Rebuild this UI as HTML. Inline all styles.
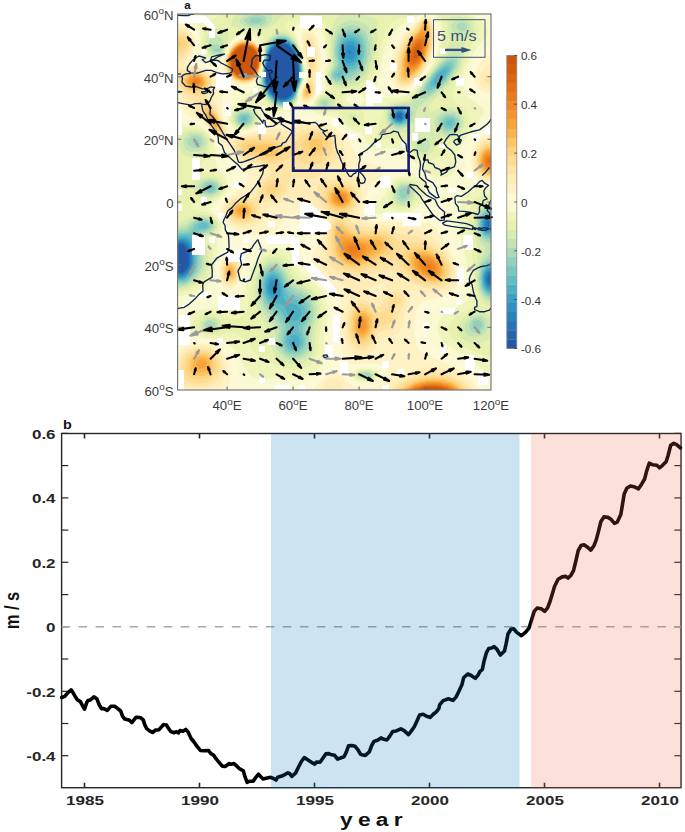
<!DOCTYPE html>
<html><head><meta charset="utf-8"><style>
html,body{margin:0;padding:0;background:#fff;}
body{width:685px;height:832px;position:relative;overflow:hidden;font-family:"Liberation Sans",sans-serif;}
svg{position:absolute;left:0;top:0;}
.ml{position:absolute;left:113px;width:60.5px;text-align:right;font-size:12px;color:#3a3a3a;line-height:14px;transform:scaleX(1.1);transform-origin:100% 0;}
.bl{position:absolute;top:399.3px;width:60px;text-align:center;font-size:12px;color:#3a3a3a;line-height:14px;transform:scaleX(1.1);}
sup{font-size:9px;vertical-align:baseline;position:relative;top:-5.5px;}
.xl{position:absolute;width:60px;text-align:center;font-weight:bold;font-size:12.8px;color:#262626;transform:scaleX(1.33);line-height:14px;}
.yl{position:absolute;left:0;width:55.6px;text-align:right;font-weight:bold;font-size:12.8px;color:#262626;line-height:14px;transform-origin:100% 50%;transform:scaleX(1.33);}
.lab{position:absolute;font-weight:bold;color:#111;}
</style></head><body>
<svg width="685" height="832" viewBox="0 0 685 832" font-family="Liberation Sans, sans-serif">
<defs><clipPath id="mclip"><rect x="177.6" y="14.0" width="313.4" height="376.0"/></clipPath></defs>
<g clip-path="url(#mclip)">
<rect x="177.6" y="14.0" width="313.4" height="376.0" fill="#fef9d6"/>
<path fill="#fff3c6" fill-rule="evenodd" d="M178.5 351.5L178.5 389.5L221.5 389.5L225.5 387.5L229.5 383.5L229.5 380.5L230.5 379.5L230.5 371.5L229.5 370.5L229.5 365.5L228.5 364.5L227.5 359.5L224.5 354.5L215.5 346.5L213.5 346.5L210.5 344.5L206.5 344.5L205.5 343.5L194.5 343.5L193.5 344.5L187.5 345.5L181.5 348.5ZM232.5 252.5L228.5 253.5L224.5 256.5L220.5 263.5L220.5 266.5L219.5 267.5L219.5 280.5L222.5 286.5L225.5 288.5L232.5 288.5L234.5 287.5L238.5 283.5L240.5 279.5L241.5 272.5L242.5 271.5L242.5 266.5L241.5 265.5L240.5 258.5L237.5 254.5ZM490.5 131.5L481.5 136.5L477.5 140.5L473.5 146.5L473.5 148.5L471.5 152.5L471.5 157.5L470.5 158.5L470.5 163.5L471.5 164.5L471.5 168.5L473.5 173.5L478.5 179.5L484.5 182.5L490.5 182.5ZM490.5 54.5L487.5 55.5L479.5 63.5L475.5 71.5L475.5 74.5L474.5 75.5L474.5 80.5L477.5 87.5L482.5 91.5L484.5 91.5L488.5 93.5L490.5 93.5ZM248.5 38.5L242.5 38.5L241.5 39.5L236.5 40.5L229.5 47.5L223.5 61.5L223.5 71.5L224.5 72.5L225.5 77.5L229.5 81.5L235.5 84.5L245.5 85.5L253.5 82.5L257.5 78.5L260.5 70.5L260.5 67.5L261.5 66.5L261.5 58.5L262.5 57.5L261.5 55.5L261.5 49.5L260.5 48.5L260.5 46.5L255.5 41.5ZM311.5 29.5L306.5 29.5L304.5 30.5L301.5 34.5L301.5 43.5L302.5 44.5L302.5 48.5L304.5 53.5L304.5 57.5L305.5 58.5L305.5 62.5L306.5 63.5L306.5 70.5L307.5 71.5L307.5 76.5L306.5 77.5L305.5 82.5L302.5 87.5L301.5 93.5L300.5 94.5L300.5 99.5L302.5 103.5L307.5 103.5L309.5 102.5L316.5 93.5L318.5 88.5L318.5 78.5L319.5 77.5L319.5 72.5L320.5 71.5L320.5 67.5L321.5 66.5L321.5 57.5L320.5 56.5L319.5 44.5L318.5 43.5L316.5 35.5ZM427.5 16.5L423.5 16.5L421.5 17.5L412.5 26.5L411.5 26.5L400.5 38.5L394.5 49.5L394.5 51.5L391.5 58.5L391.5 62.5L390.5 63.5L390.5 78.5L394.5 86.5L398.5 89.5L406.5 89.5L410.5 87.5L421.5 76.5L426.5 67.5L428.5 65.5L428.5 63.5L431.5 58.5L431.5 56.5L433.5 52.5L433.5 49.5L434.5 48.5L434.5 44.5L435.5 43.5L435.5 26.5L431.5 18.5ZM178.5 14.5L178.5 100.5L185.5 113.5L192.5 117.5L194.5 117.5L200.5 120.5L209.5 129.5L209.5 130.5L220.5 142.5L230.5 157.5L237.5 164.5L242.5 167.5L248.5 174.5L248.5 179.5L245.5 185.5L228.5 197.5L221.5 205.5L220.5 210.5L224.5 219.5L232.5 228.5L240.5 232.5L246.5 233.5L247.5 234.5L262.5 234.5L263.5 233.5L271.5 232.5L277.5 229.5L283.5 221.5L291.5 214.5L294.5 214.5L295.5 213.5L302.5 213.5L303.5 214.5L307.5 214.5L314.5 217.5L320.5 224.5L320.5 236.5L319.5 237.5L319.5 240.5L311.5 256.5L311.5 264.5L315.5 271.5L335.5 289.5L340.5 298.5L340.5 311.5L339.5 312.5L339.5 318.5L338.5 319.5L338.5 336.5L339.5 337.5L339.5 341.5L340.5 342.5L341.5 349.5L344.5 355.5L344.5 357.5L348.5 363.5L366.5 363.5L367.5 362.5L369.5 362.5L370.5 363.5L377.5 363.5L384.5 366.5L388.5 370.5L388.5 372.5L389.5 373.5L387.5 378.5L380.5 384.5L373.5 387.5L361.5 388.5L360.5 387.5L354.5 386.5L349.5 383.5L340.5 373.5L333.5 373.5L332.5 374.5L327.5 375.5L322.5 378.5L316.5 386.5L312.5 389.5L477.5 389.5L474.5 383.5L464.5 373.5L454.5 366.5L444.5 361.5L442.5 361.5L441.5 360.5L430.5 357.5L427.5 355.5L425.5 355.5L418.5 349.5L415.5 342.5L415.5 336.5L414.5 335.5L414.5 315.5L415.5 314.5L415.5 311.5L419.5 304.5L423.5 301.5L425.5 301.5L429.5 299.5L432.5 299.5L433.5 298.5L436.5 298.5L437.5 297.5L440.5 297.5L449.5 293.5L454.5 289.5L458.5 281.5L458.5 268.5L457.5 267.5L455.5 259.5L436.5 228.5L432.5 224.5L428.5 222.5L373.5 221.5L367.5 218.5L364.5 215.5L362.5 210.5L363.5 202.5L364.5 201.5L364.5 198.5L365.5 197.5L368.5 187.5L374.5 181.5L375.5 181.5L384.5 172.5L385.5 170.5L383.5 167.5L379.5 165.5L376.5 165.5L375.5 164.5L367.5 162.5L362.5 159.5L354.5 151.5L347.5 139.5L337.5 129.5L329.5 124.5L327.5 124.5L323.5 122.5L320.5 122.5L319.5 121.5L311.5 121.5L310.5 120.5L272.5 120.5L268.5 122.5L261.5 128.5L253.5 132.5L244.5 133.5L243.5 134.5L235.5 134.5L234.5 133.5L232.5 133.5L227.5 128.5L224.5 122.5L224.5 120.5L222.5 116.5L222.5 112.5L221.5 111.5L221.5 101.5L222.5 100.5L222.5 90.5L223.5 89.5L222.5 81.5L221.5 79.5L212.5 71.5L206.5 68.5L194.5 65.5L191.5 62.5L191.5 57.5L194.5 52.5L194.5 48.5L195.5 47.5L195.5 39.5L192.5 32.5L181.5 21.5L180.5 19.5L180.5 14.5Z"/>
<path fill="#ffecb6" fill-rule="evenodd" d="M323.5 385.5L323.5 389.5L342.5 389.5L342.5 384.5L341.5 382.5L336.5 378.5L331.5 378.5L330.5 379.5L328.5 379.5L325.5 381.5ZM384.5 389.5L473.5 389.5L472.5 387.5L462.5 377.5L452.5 371.5L450.5 371.5L447.5 369.5L441.5 368.5L440.5 367.5L423.5 367.5L422.5 368.5L414.5 370.5L394.5 380.5ZM221.5 355.5L213.5 348.5L208.5 346.5L203.5 346.5L202.5 345.5L193.5 346.5L184.5 350.5L180.5 354.5L178.5 358.5L178.5 385.5L180.5 387.5L182.5 387.5L183.5 388.5L192.5 388.5L193.5 389.5L196.5 389.5L197.5 388.5L208.5 388.5L209.5 387.5L213.5 387.5L219.5 384.5L222.5 381.5L225.5 373.5L225.5 366.5ZM232.5 256.5L227.5 257.5L223.5 261.5L220.5 269.5L220.5 276.5L221.5 277.5L221.5 279.5L223.5 283.5L227.5 286.5L231.5 286.5L237.5 281.5L239.5 277.5L239.5 273.5L240.5 272.5L240.5 268.5L239.5 267.5L238.5 261.5ZM490.5 136.5L483.5 139.5L477.5 145.5L473.5 155.5L473.5 166.5L474.5 167.5L474.5 169.5L478.5 176.5L482.5 179.5L484.5 179.5L485.5 180.5L490.5 180.5ZM490.5 63.5L485.5 66.5L479.5 74.5L479.5 82.5L483.5 87.5L485.5 87.5L486.5 88.5L490.5 88.5ZM241.5 39.5L236.5 41.5L232.5 44.5L228.5 50.5L224.5 61.5L224.5 67.5L227.5 75.5L229.5 78.5L237.5 83.5L249.5 83.5L253.5 81.5L258.5 75.5L258.5 73.5L260.5 69.5L260.5 66.5L261.5 65.5L261.5 51.5L259.5 46.5L254.5 41.5L249.5 39.5ZM310.5 33.5L306.5 33.5L303.5 37.5L303.5 48.5L304.5 49.5L304.5 53.5L305.5 54.5L305.5 58.5L306.5 59.5L306.5 64.5L307.5 65.5L307.5 71.5L308.5 72.5L307.5 79.5L301.5 91.5L301.5 98.5L303.5 101.5L307.5 101.5L309.5 100.5L313.5 96.5L316.5 89.5L316.5 74.5L318.5 69.5L318.5 51.5L317.5 50.5L317.5 46.5L316.5 45.5L315.5 39.5L312.5 34.5ZM178.5 25.5L178.5 92.5L184.5 100.5L188.5 108.5L200.5 117.5L200.5 118.5L207.5 125.5L213.5 133.5L229.5 147.5L232.5 153.5L238.5 159.5L247.5 164.5L249.5 164.5L256.5 168.5L259.5 172.5L258.5 177.5L252.5 189.5L249.5 192.5L236.5 195.5L232.5 197.5L226.5 202.5L223.5 208.5L223.5 211.5L226.5 218.5L232.5 224.5L237.5 226.5L240.5 226.5L241.5 227.5L248.5 227.5L249.5 226.5L252.5 226.5L257.5 224.5L262.5 220.5L265.5 214.5L265.5 212.5L268.5 207.5L272.5 205.5L275.5 205.5L281.5 202.5L283.5 202.5L290.5 198.5L297.5 198.5L298.5 199.5L300.5 199.5L305.5 202.5L309.5 203.5L318.5 209.5L326.5 218.5L326.5 222.5L325.5 223.5L325.5 233.5L324.5 234.5L324.5 241.5L323.5 242.5L323.5 246.5L320.5 254.5L320.5 264.5L322.5 268.5L328.5 274.5L346.5 286.5L350.5 290.5L350.5 292.5L351.5 293.5L350.5 294.5L350.5 297.5L349.5 298.5L348.5 303.5L346.5 306.5L346.5 309.5L344.5 314.5L344.5 318.5L343.5 319.5L343.5 332.5L344.5 333.5L344.5 337.5L345.5 338.5L346.5 343.5L351.5 351.5L356.5 355.5L358.5 355.5L359.5 356.5L365.5 356.5L369.5 354.5L373.5 350.5L377.5 343.5L383.5 337.5L393.5 335.5L397.5 333.5L400.5 330.5L403.5 323.5L403.5 316.5L404.5 315.5L404.5 312.5L409.5 303.5L409.5 300.5L410.5 299.5L410.5 291.5L411.5 290.5L418.5 290.5L419.5 291.5L423.5 291.5L424.5 292.5L438.5 292.5L448.5 288.5L452.5 284.5L455.5 276.5L455.5 271.5L454.5 270.5L453.5 263.5L450.5 257.5L446.5 251.5L430.5 235.5L424.5 231.5L422.5 231.5L418.5 229.5L415.5 229.5L414.5 228.5L403.5 228.5L402.5 227.5L395.5 227.5L394.5 226.5L389.5 226.5L388.5 225.5L371.5 224.5L361.5 220.5L358.5 217.5L357.5 212.5L358.5 211.5L358.5 208.5L360.5 203.5L360.5 199.5L361.5 198.5L360.5 188.5L356.5 180.5L347.5 169.5L347.5 166.5L346.5 165.5L346.5 158.5L345.5 157.5L345.5 152.5L344.5 151.5L343.5 144.5L337.5 134.5L331.5 129.5L322.5 125.5L308.5 124.5L307.5 125.5L302.5 125.5L301.5 126.5L297.5 126.5L296.5 127.5L292.5 127.5L291.5 128.5L286.5 128.5L285.5 129.5L267.5 129.5L266.5 130.5L263.5 130.5L256.5 133.5L248.5 134.5L247.5 135.5L231.5 136.5L227.5 132.5L225.5 128.5L225.5 126.5L223.5 123.5L223.5 121.5L221.5 118.5L221.5 116.5L219.5 113.5L219.5 111.5L214.5 100.5L215.5 80.5L213.5 76.5L205.5 70.5L203.5 70.5L199.5 68.5L195.5 68.5L194.5 67.5L188.5 67.5L184.5 64.5L184.5 61.5L192.5 50.5L193.5 40.5L191.5 35.5L186.5 30.5L180.5 27.5ZM384.5 283.5L386.5 286.5L380.5 295.5L378.5 297.5L373.5 297.5L369.5 292.5L369.5 288.5L375.5 284.5L377.5 284.5L378.5 283.5ZM426.5 17.5L424.5 17.5L420.5 19.5L406.5 34.5L398.5 47.5L398.5 49.5L396.5 52.5L395.5 58.5L394.5 59.5L394.5 63.5L393.5 64.5L393.5 76.5L394.5 77.5L395.5 82.5L397.5 85.5L400.5 87.5L406.5 87.5L416.5 80.5L425.5 68.5L430.5 57.5L432.5 47.5L433.5 46.5L433.5 41.5L434.5 40.5L434.5 29.5L433.5 28.5L432.5 22.5L430.5 19.5Z"/>
<path fill="#fee5a6" fill-rule="evenodd" d="M391.5 389.5L469.5 389.5L469.5 388.5L462.5 381.5L452.5 375.5L450.5 375.5L446.5 373.5L443.5 373.5L442.5 372.5L426.5 372.5L425.5 373.5L421.5 373.5L420.5 374.5L417.5 374.5L411.5 377.5L409.5 377.5L399.5 382.5ZM183.5 355.5L179.5 364.5L179.5 378.5L184.5 384.5L191.5 385.5L192.5 386.5L207.5 385.5L214.5 382.5L219.5 377.5L220.5 372.5L221.5 371.5L221.5 362.5L219.5 357.5L216.5 353.5L212.5 350.5L207.5 348.5L194.5 348.5L188.5 351.5ZM402.5 293.5L397.5 291.5L394.5 291.5L389.5 293.5L385.5 297.5L383.5 302.5L379.5 306.5L375.5 306.5L364.5 299.5L358.5 299.5L352.5 304.5L348.5 312.5L347.5 321.5L346.5 322.5L346.5 328.5L347.5 329.5L347.5 334.5L348.5 335.5L349.5 340.5L354.5 347.5L360.5 350.5L366.5 349.5L372.5 343.5L376.5 335.5L380.5 331.5L385.5 330.5L386.5 329.5L389.5 329.5L394.5 326.5L397.5 320.5L397.5 315.5L398.5 314.5L398.5 312.5L402.5 307.5L405.5 300.5L405.5 298.5ZM233.5 259.5L228.5 259.5L226.5 260.5L222.5 266.5L222.5 278.5L223.5 280.5L228.5 284.5L233.5 283.5L236.5 280.5L238.5 275.5L238.5 266.5L236.5 262.5ZM318.5 185.5L317.5 187.5L317.5 197.5L318.5 198.5L318.5 200.5L321.5 205.5L331.5 215.5L331.5 219.5L329.5 222.5L328.5 229.5L327.5 230.5L327.5 249.5L326.5 250.5L326.5 255.5L327.5 256.5L327.5 260.5L331.5 267.5L341.5 274.5L343.5 274.5L346.5 276.5L349.5 276.5L350.5 277.5L361.5 277.5L362.5 276.5L372.5 274.5L378.5 271.5L381.5 271.5L386.5 269.5L390.5 269.5L398.5 272.5L404.5 277.5L413.5 282.5L415.5 284.5L417.5 284.5L420.5 286.5L422.5 286.5L426.5 288.5L439.5 288.5L446.5 285.5L449.5 282.5L452.5 275.5L452.5 270.5L451.5 269.5L450.5 263.5L446.5 256.5L436.5 246.5L430.5 242.5L417.5 236.5L400.5 234.5L384.5 228.5L378.5 228.5L377.5 227.5L364.5 227.5L363.5 226.5L360.5 226.5L355.5 224.5L352.5 222.5L349.5 218.5L350.5 214.5L356.5 206.5L357.5 200.5L358.5 199.5L357.5 191.5L354.5 186.5L347.5 181.5L340.5 180.5L339.5 179.5L331.5 179.5L330.5 180.5L326.5 180.5L325.5 181.5L323.5 181.5ZM487.5 140.5L483.5 142.5L479.5 146.5L476.5 151.5L476.5 153.5L475.5 154.5L475.5 167.5L478.5 173.5L481.5 176.5L485.5 178.5L490.5 178.5L490.5 140.5ZM335.5 138.5L328.5 131.5L324.5 129.5L322.5 129.5L321.5 128.5L307.5 128.5L306.5 129.5L301.5 130.5L290.5 136.5L279.5 136.5L278.5 135.5L273.5 135.5L272.5 134.5L262.5 134.5L261.5 135.5L253.5 135.5L252.5 136.5L241.5 137.5L235.5 140.5L233.5 144.5L234.5 149.5L241.5 157.5L247.5 160.5L250.5 160.5L251.5 161.5L259.5 163.5L269.5 168.5L272.5 171.5L270.5 174.5L265.5 177.5L260.5 182.5L257.5 189.5L257.5 195.5L255.5 197.5L238.5 197.5L230.5 201.5L226.5 207.5L226.5 214.5L227.5 216.5L232.5 221.5L240.5 224.5L246.5 224.5L247.5 223.5L252.5 222.5L257.5 218.5L259.5 214.5L260.5 202.5L261.5 201.5L270.5 201.5L271.5 200.5L275.5 200.5L280.5 198.5L286.5 192.5L289.5 184.5L289.5 179.5L291.5 177.5L313.5 178.5L317.5 176.5L325.5 169.5L326.5 169.5L333.5 162.5L336.5 157.5L336.5 155.5L337.5 154.5L337.5 143.5ZM487.5 74.5L484.5 76.5L484.5 81.5L486.5 83.5L490.5 83.5L490.5 74.5ZM250.5 40.5L240.5 40.5L234.5 43.5L230.5 48.5L225.5 59.5L225.5 67.5L226.5 68.5L227.5 73.5L232.5 79.5L238.5 82.5L242.5 82.5L244.5 83.5L245.5 82.5L249.5 82.5L253.5 80.5L257.5 76.5L260.5 68.5L260.5 64.5L261.5 63.5L261.5 53.5L260.5 52.5L260.5 49.5L254.5 42.5ZM310.5 37.5L307.5 37.5L304.5 41.5L305.5 54.5L306.5 55.5L306.5 59.5L307.5 60.5L307.5 64.5L308.5 65.5L308.5 69.5L309.5 70.5L309.5 77.5L306.5 83.5L304.5 85.5L302.5 90.5L302.5 98.5L304.5 100.5L306.5 100.5L310.5 98.5L314.5 92.5L313.5 74.5L316.5 66.5L316.5 52.5L315.5 51.5L314.5 43.5ZM178.5 30.5L178.5 87.5L189.5 98.5L191.5 99.5L194.5 103.5L199.5 113.5L209.5 127.5L218.5 136.5L221.5 138.5L225.5 138.5L226.5 134.5L225.5 133.5L225.5 130.5L222.5 124.5L221.5 119.5L214.5 106.5L211.5 103.5L207.5 96.5L212.5 85.5L212.5 80.5L210.5 76.5L207.5 73.5L200.5 70.5L197.5 70.5L196.5 69.5L180.5 70.5L178.5 68.5L178.5 63.5L180.5 59.5L187.5 53.5L191.5 45.5L191.5 41.5L188.5 35.5L180.5 30.5ZM428.5 19.5L426.5 19.5L425.5 18.5L424.5 19.5L422.5 19.5L418.5 23.5L418.5 24.5L406.5 37.5L399.5 50.5L399.5 52.5L397.5 56.5L397.5 60.5L396.5 61.5L396.5 68.5L395.5 69.5L395.5 72.5L396.5 73.5L396.5 78.5L397.5 79.5L397.5 81.5L399.5 84.5L401.5 85.5L406.5 85.5L415.5 79.5L423.5 69.5L428.5 59.5L428.5 57.5L431.5 50.5L432.5 39.5L433.5 38.5L432.5 26.5L430.5 21.5Z"/>
<path fill="#fedc94" fill-rule="evenodd" d="M396.5 389.5L466.5 389.5L466.5 388.5L458.5 381.5L447.5 376.5L444.5 376.5L443.5 375.5L425.5 375.5L424.5 376.5L420.5 376.5L419.5 377.5L411.5 379.5L403.5 383.5ZM189.5 353.5L185.5 357.5L182.5 365.5L182.5 373.5L185.5 379.5L191.5 382.5L196.5 382.5L198.5 383.5L199.5 382.5L205.5 382.5L213.5 378.5L216.5 374.5L218.5 369.5L218.5 362.5L216.5 357.5L211.5 352.5L206.5 350.5L195.5 350.5ZM396.5 295.5L392.5 296.5L388.5 301.5L388.5 305.5L387.5 307.5L383.5 311.5L381.5 311.5L380.5 312.5L377.5 312.5L373.5 310.5L367.5 305.5L362.5 303.5L360.5 303.5L356.5 305.5L353.5 308.5L349.5 318.5L349.5 331.5L353.5 341.5L356.5 344.5L360.5 346.5L363.5 346.5L367.5 344.5L371.5 339.5L375.5 330.5L380.5 325.5L387.5 324.5L390.5 322.5L392.5 318.5L392.5 311.5L393.5 309.5L400.5 303.5L400.5 298.5ZM228.5 261.5L225.5 263.5L223.5 267.5L223.5 276.5L226.5 281.5L231.5 282.5L233.5 281.5L236.5 277.5L237.5 268.5L234.5 262.5L232.5 261.5ZM330.5 227.5L330.5 253.5L331.5 254.5L331.5 257.5L333.5 261.5L339.5 267.5L345.5 270.5L352.5 271.5L353.5 272.5L363.5 271.5L369.5 268.5L371.5 268.5L380.5 263.5L385.5 262.5L388.5 260.5L395.5 260.5L412.5 278.5L423.5 284.5L426.5 284.5L427.5 285.5L439.5 285.5L446.5 281.5L448.5 278.5L448.5 276.5L449.5 275.5L449.5 267.5L446.5 260.5L439.5 252.5L428.5 245.5L426.5 245.5L422.5 243.5L419.5 243.5L418.5 242.5L400.5 242.5L388.5 233.5L383.5 231.5L379.5 231.5L378.5 230.5L370.5 230.5L369.5 231.5L359.5 230.5L358.5 229.5L353.5 228.5L341.5 218.5L336.5 219.5L332.5 223.5ZM232.5 202.5L228.5 207.5L228.5 213.5L234.5 220.5L236.5 221.5L240.5 221.5L241.5 222.5L248.5 221.5L255.5 215.5L256.5 213.5L256.5 207.5L253.5 202.5L246.5 199.5L239.5 199.5ZM334.5 183.5L329.5 185.5L325.5 188.5L322.5 194.5L322.5 198.5L324.5 203.5L328.5 208.5L337.5 214.5L342.5 214.5L348.5 211.5L353.5 206.5L355.5 202.5L355.5 193.5L353.5 189.5L350.5 186.5L346.5 184.5L344.5 184.5L343.5 183.5ZM269.5 180.5L265.5 182.5L262.5 186.5L262.5 193.5L267.5 197.5L273.5 197.5L279.5 194.5L281.5 191.5L281.5 184.5L276.5 180.5ZM490.5 142.5L489.5 143.5L484.5 144.5L479.5 149.5L476.5 157.5L476.5 164.5L477.5 165.5L478.5 170.5L482.5 175.5L487.5 177.5L490.5 177.5ZM332.5 141.5L331.5 139.5L323.5 132.5L321.5 132.5L320.5 131.5L310.5 131.5L300.5 136.5L292.5 145.5L288.5 145.5L282.5 141.5L280.5 141.5L277.5 139.5L274.5 139.5L273.5 138.5L247.5 138.5L246.5 139.5L241.5 140.5L238.5 143.5L238.5 149.5L239.5 151.5L245.5 156.5L255.5 158.5L268.5 163.5L278.5 163.5L287.5 159.5L291.5 156.5L294.5 156.5L301.5 161.5L306.5 163.5L318.5 163.5L323.5 161.5L330.5 155.5L332.5 151.5ZM201.5 100.5L200.5 101.5L200.5 109.5L205.5 120.5L210.5 127.5L216.5 133.5L219.5 135.5L222.5 135.5L223.5 134.5L223.5 128.5L216.5 112.5L207.5 102.5L203.5 100.5ZM310.5 81.5L309.5 81.5L305.5 85.5L303.5 89.5L302.5 95.5L304.5 98.5L308.5 98.5L312.5 94.5L312.5 92.5L313.5 91.5L313.5 86.5L312.5 85.5L312.5 83.5ZM181.5 74.5L179.5 76.5L179.5 78.5L178.5 79.5L179.5 80.5L180.5 85.5L184.5 90.5L193.5 95.5L200.5 96.5L209.5 86.5L209.5 84.5L210.5 83.5L209.5 78.5L202.5 72.5L200.5 72.5L199.5 71.5L188.5 71.5ZM307.5 42.5L306.5 44.5L306.5 53.5L307.5 54.5L307.5 58.5L308.5 59.5L309.5 66.5L310.5 68.5L312.5 68.5L313.5 66.5L313.5 62.5L314.5 61.5L314.5 53.5L313.5 52.5L313.5 48.5L311.5 43.5L310.5 42.5ZM242.5 40.5L235.5 43.5L231.5 47.5L226.5 58.5L226.5 68.5L228.5 73.5L231.5 77.5L235.5 80.5L237.5 80.5L241.5 82.5L246.5 82.5L247.5 81.5L252.5 80.5L257.5 75.5L260.5 67.5L261.5 55.5L260.5 54.5L260.5 50.5L259.5 48.5L253.5 42.5L248.5 41.5L247.5 40.5ZM178.5 33.5L178.5 56.5L185.5 51.5L188.5 47.5L188.5 40.5L187.5 38.5L184.5 35.5ZM427.5 20.5L422.5 20.5L420.5 22.5L418.5 26.5L411.5 33.5L403.5 45.5L403.5 47.5L401.5 50.5L401.5 52.5L399.5 56.5L399.5 59.5L398.5 60.5L398.5 70.5L397.5 71.5L398.5 72.5L398.5 79.5L401.5 83.5L406.5 83.5L414.5 78.5L421.5 70.5L427.5 59.5L427.5 57.5L430.5 50.5L430.5 46.5L431.5 45.5L431.5 27.5L429.5 22.5Z"/>
<path fill="#fdd47f" fill-rule="evenodd" d="M399.5 389.5L464.5 389.5L456.5 382.5L446.5 378.5L443.5 378.5L442.5 377.5L425.5 377.5L424.5 378.5L420.5 378.5L405.5 384.5ZM196.5 352.5L192.5 354.5L187.5 359.5L186.5 364.5L185.5 365.5L185.5 369.5L187.5 374.5L190.5 377.5L194.5 379.5L203.5 379.5L210.5 376.5L212.5 374.5L215.5 369.5L215.5 361.5L214.5 360.5L214.5 358.5L210.5 354.5L206.5 352.5ZM359.5 307.5L354.5 311.5L352.5 315.5L352.5 318.5L351.5 319.5L351.5 331.5L354.5 338.5L358.5 342.5L364.5 342.5L368.5 339.5L372.5 332.5L372.5 330.5L375.5 324.5L375.5 318.5L372.5 313.5L368.5 309.5L365.5 307.5ZM230.5 262.5L229.5 263.5L227.5 263.5L224.5 268.5L224.5 275.5L226.5 279.5L228.5 280.5L233.5 279.5L235.5 276.5L235.5 273.5L236.5 272.5L235.5 266.5ZM404.5 252.5L403.5 254.5L403.5 260.5L406.5 267.5L408.5 270.5L418.5 279.5L429.5 283.5L437.5 283.5L438.5 282.5L440.5 282.5L445.5 278.5L447.5 273.5L446.5 265.5L442.5 258.5L438.5 254.5L432.5 250.5L424.5 247.5L415.5 246.5L414.5 247.5L408.5 248.5ZM332.5 228.5L332.5 243.5L333.5 244.5L333.5 253.5L334.5 254.5L334.5 256.5L342.5 265.5L346.5 267.5L349.5 267.5L350.5 268.5L360.5 268.5L361.5 267.5L366.5 266.5L372.5 263.5L374.5 261.5L382.5 258.5L384.5 256.5L387.5 255.5L391.5 251.5L392.5 244.5L390.5 240.5L386.5 236.5L382.5 234.5L380.5 234.5L379.5 233.5L370.5 233.5L369.5 234.5L358.5 233.5L357.5 232.5L352.5 231.5L344.5 224.5L339.5 222.5L336.5 223.5ZM231.5 206.5L230.5 208.5L230.5 213.5L231.5 215.5L236.5 219.5L239.5 219.5L240.5 220.5L247.5 219.5L249.5 218.5L253.5 213.5L253.5 207.5L251.5 204.5L245.5 201.5L238.5 201.5L234.5 203.5ZM331.5 187.5L326.5 192.5L326.5 194.5L325.5 195.5L325.5 199.5L327.5 203.5L332.5 208.5L336.5 210.5L344.5 210.5L348.5 208.5L353.5 202.5L353.5 193.5L352.5 191.5L349.5 188.5L342.5 185.5L337.5 185.5L336.5 186.5ZM270.5 184.5L266.5 187.5L266.5 191.5L268.5 193.5L273.5 193.5L276.5 191.5L276.5 186.5L273.5 184.5ZM486.5 145.5L483.5 147.5L479.5 152.5L477.5 161.5L478.5 162.5L478.5 167.5L481.5 172.5L485.5 175.5L490.5 175.5L490.5 145.5ZM241.5 146.5L242.5 150.5L248.5 154.5L259.5 156.5L262.5 158.5L269.5 159.5L270.5 160.5L277.5 159.5L280.5 157.5L283.5 153.5L283.5 149.5L282.5 147.5L279.5 144.5L272.5 141.5L255.5 141.5L254.5 140.5L250.5 140.5L249.5 141.5L245.5 141.5ZM309.5 135.5L304.5 139.5L302.5 143.5L302.5 149.5L303.5 151.5L307.5 155.5L312.5 157.5L316.5 157.5L317.5 156.5L322.5 155.5L327.5 150.5L327.5 148.5L328.5 147.5L327.5 140.5L323.5 136.5L319.5 134.5L312.5 134.5L311.5 135.5ZM204.5 105.5L203.5 106.5L203.5 113.5L205.5 116.5L205.5 118.5L212.5 128.5L217.5 132.5L220.5 133.5L221.5 132.5L221.5 125.5L216.5 114.5L210.5 107.5L207.5 105.5ZM310.5 84.5L307.5 84.5L303.5 90.5L303.5 95.5L305.5 97.5L309.5 96.5L311.5 93.5L312.5 88.5ZM182.5 77.5L182.5 79.5L181.5 80.5L182.5 81.5L183.5 86.5L186.5 89.5L192.5 92.5L200.5 92.5L202.5 91.5L207.5 86.5L207.5 84.5L208.5 83.5L207.5 78.5L203.5 74.5L198.5 72.5L190.5 72.5L185.5 74.5ZM309.5 49.5L308.5 50.5L308.5 54.5L310.5 59.5L311.5 58.5L311.5 53.5ZM241.5 41.5L236.5 43.5L231.5 48.5L227.5 56.5L226.5 65.5L229.5 73.5L235.5 79.5L240.5 81.5L248.5 81.5L254.5 78.5L258.5 72.5L259.5 66.5L260.5 65.5L260.5 52.5L259.5 51.5L259.5 49.5L255.5 44.5L249.5 41.5ZM178.5 36.5L178.5 51.5L179.5 51.5L185.5 46.5L186.5 43.5L185.5 42.5L185.5 40.5L183.5 38.5ZM426.5 21.5L423.5 21.5L420.5 24.5L418.5 28.5L408.5 39.5L407.5 42.5L404.5 46.5L404.5 48.5L401.5 54.5L400.5 64.5L399.5 65.5L399.5 75.5L400.5 76.5L400.5 79.5L402.5 81.5L406.5 81.5L414.5 76.5L419.5 71.5L425.5 61.5L425.5 59.5L427.5 56.5L427.5 54.5L429.5 50.5L429.5 46.5L430.5 45.5L430.5 27.5L428.5 22.5Z"/>
<path fill="#fcc667" fill-rule="evenodd" d="M402.5 389.5L461.5 389.5L456.5 384.5L450.5 381.5L448.5 381.5L444.5 379.5L438.5 379.5L437.5 378.5L430.5 378.5L429.5 379.5L419.5 380.5L405.5 386.5ZM197.5 354.5L193.5 356.5L189.5 361.5L189.5 370.5L194.5 375.5L197.5 375.5L198.5 376.5L205.5 375.5L207.5 374.5L212.5 368.5L212.5 366.5L213.5 365.5L212.5 360.5L209.5 356.5L205.5 354.5ZM359.5 310.5L355.5 314.5L353.5 318.5L353.5 331.5L354.5 332.5L354.5 334.5L357.5 338.5L359.5 339.5L364.5 339.5L368.5 335.5L371.5 329.5L372.5 320.5L370.5 315.5L366.5 311.5L364.5 310.5ZM229.5 264.5L227.5 265.5L225.5 269.5L225.5 274.5L228.5 278.5L232.5 278.5L234.5 275.5L234.5 268.5L231.5 264.5ZM409.5 254.5L408.5 256.5L408.5 264.5L412.5 271.5L419.5 277.5L426.5 280.5L435.5 281.5L440.5 279.5L444.5 275.5L444.5 271.5L445.5 270.5L444.5 269.5L443.5 263.5L441.5 260.5L433.5 253.5L426.5 250.5L414.5 250.5ZM334.5 229.5L334.5 240.5L335.5 241.5L335.5 250.5L336.5 251.5L336.5 254.5L339.5 259.5L346.5 264.5L348.5 264.5L349.5 265.5L360.5 265.5L361.5 264.5L363.5 264.5L384.5 252.5L387.5 247.5L387.5 243.5L382.5 237.5L380.5 237.5L379.5 236.5L359.5 236.5L349.5 232.5L342.5 226.5L340.5 226.5L339.5 225.5L338.5 226.5L336.5 226.5ZM232.5 208.5L232.5 212.5L233.5 214.5L236.5 217.5L238.5 217.5L239.5 218.5L244.5 218.5L248.5 216.5L251.5 212.5L250.5 207.5L245.5 203.5L238.5 203.5ZM336.5 187.5L332.5 189.5L329.5 192.5L328.5 194.5L328.5 201.5L331.5 205.5L336.5 208.5L344.5 208.5L349.5 205.5L351.5 202.5L351.5 200.5L352.5 199.5L351.5 193.5L347.5 189.5L343.5 187.5ZM486.5 147.5L483.5 149.5L480.5 153.5L480.5 155.5L479.5 156.5L479.5 166.5L483.5 172.5L487.5 174.5L490.5 174.5L490.5 147.5ZM246.5 146.5L246.5 148.5L248.5 150.5L258.5 152.5L266.5 156.5L274.5 156.5L278.5 153.5L278.5 149.5L277.5 147.5L271.5 144.5L248.5 144.5ZM317.5 138.5L312.5 139.5L309.5 142.5L309.5 147.5L312.5 150.5L314.5 150.5L315.5 151.5L319.5 150.5L322.5 147.5L322.5 142.5L321.5 140.5ZM206.5 108.5L205.5 109.5L205.5 115.5L208.5 121.5L216.5 130.5L218.5 131.5L220.5 130.5L220.5 125.5L216.5 116.5L210.5 109.5ZM309.5 86.5L307.5 86.5L304.5 90.5L304.5 95.5L306.5 96.5L310.5 93.5L310.5 87.5ZM184.5 78.5L184.5 84.5L189.5 89.5L191.5 89.5L192.5 90.5L199.5 90.5L203.5 88.5L206.5 84.5L206.5 79.5L204.5 76.5L198.5 73.5L191.5 73.5L187.5 75.5ZM243.5 41.5L242.5 42.5L237.5 43.5L231.5 49.5L227.5 58.5L227.5 67.5L231.5 75.5L236.5 79.5L238.5 79.5L239.5 80.5L249.5 80.5L253.5 78.5L256.5 75.5L258.5 71.5L259.5 65.5L260.5 64.5L260.5 53.5L258.5 48.5L254.5 44.5L250.5 42.5ZM179.5 41.5L178.5 41.5L178.5 46.5L180.5 45.5L180.5 42.5ZM426.5 22.5L423.5 22.5L418.5 30.5L411.5 37.5L405.5 47.5L405.5 49.5L403.5 52.5L402.5 59.5L401.5 60.5L401.5 76.5L403.5 79.5L406.5 79.5L413.5 75.5L419.5 69.5L422.5 63.5L424.5 61.5L424.5 59.5L426.5 56.5L426.5 54.5L428.5 50.5L428.5 46.5L429.5 45.5L429.5 28.5Z"/>
<path fill="#fab54d" fill-rule="evenodd" d="M404.5 389.5L459.5 389.5L453.5 384.5L442.5 380.5L425.5 380.5L424.5 381.5L420.5 381.5L419.5 382.5L414.5 383.5ZM196.5 357.5L192.5 362.5L192.5 367.5L193.5 369.5L197.5 372.5L203.5 372.5L204.5 371.5L206.5 371.5L209.5 368.5L209.5 366.5L210.5 365.5L209.5 360.5L204.5 356.5L198.5 356.5ZM361.5 312.5L359.5 313.5L355.5 318.5L354.5 327.5L355.5 328.5L356.5 333.5L359.5 336.5L362.5 337.5L367.5 333.5L369.5 329.5L369.5 318.5L365.5 313.5ZM229.5 266.5L226.5 270.5L226.5 273.5L228.5 276.5L231.5 276.5L233.5 274.5L233.5 269.5L232.5 267.5ZM412.5 256.5L411.5 258.5L411.5 264.5L415.5 271.5L421.5 276.5L429.5 279.5L434.5 279.5L439.5 277.5L442.5 273.5L442.5 266.5L440.5 262.5L434.5 256.5L425.5 252.5L418.5 252.5ZM336.5 232.5L336.5 236.5L337.5 237.5L337.5 248.5L338.5 249.5L339.5 255.5L345.5 261.5L350.5 263.5L358.5 263.5L365.5 260.5L373.5 254.5L378.5 252.5L383.5 246.5L382.5 242.5L378.5 239.5L362.5 239.5L361.5 238.5L358.5 238.5L347.5 234.5L341.5 229.5L338.5 229.5ZM235.5 207.5L234.5 212.5L239.5 216.5L244.5 216.5L248.5 213.5L248.5 208.5L244.5 205.5L238.5 205.5ZM330.5 194.5L330.5 201.5L336.5 206.5L344.5 206.5L346.5 205.5L350.5 200.5L350.5 195.5L349.5 193.5L344.5 189.5L336.5 189.5ZM490.5 148.5L488.5 148.5L484.5 150.5L481.5 154.5L481.5 156.5L480.5 157.5L480.5 165.5L482.5 169.5L486.5 172.5L490.5 172.5ZM265.5 150.5L267.5 152.5L272.5 152.5L272.5 149.5L270.5 148.5L267.5 148.5ZM207.5 111.5L207.5 117.5L209.5 121.5L215.5 128.5L218.5 128.5L218.5 122.5L215.5 116.5L210.5 111.5ZM308.5 88.5L305.5 90.5L305.5 93.5L306.5 94.5L309.5 92.5L309.5 89.5ZM185.5 80.5L186.5 84.5L189.5 87.5L194.5 89.5L197.5 89.5L202.5 87.5L205.5 82.5L203.5 77.5L197.5 74.5L192.5 74.5L188.5 76.5ZM241.5 42.5L240.5 43.5L238.5 43.5L232.5 48.5L228.5 56.5L227.5 64.5L231.5 74.5L234.5 77.5L241.5 80.5L247.5 80.5L252.5 78.5L256.5 74.5L259.5 67.5L260.5 56.5L259.5 55.5L259.5 51.5L258.5 49.5L253.5 44.5L248.5 42.5ZM426.5 24.5L423.5 24.5L422.5 25.5L421.5 28.5L418.5 32.5L410.5 40.5L405.5 50.5L404.5 56.5L403.5 57.5L403.5 63.5L402.5 64.5L402.5 66.5L403.5 67.5L403.5 74.5L404.5 76.5L407.5 76.5L413.5 73.5L420.5 66.5L425.5 56.5L425.5 54.5L427.5 50.5L427.5 47.5L428.5 46.5L428.5 31.5L427.5 30.5L427.5 25.5Z"/>
<path fill="#f7a43a" fill-rule="evenodd" d="M406.5 389.5L457.5 389.5L454.5 386.5L448.5 383.5L441.5 382.5L440.5 381.5L425.5 381.5L424.5 382.5L421.5 382.5L420.5 383.5L417.5 383.5L414.5 385.5L412.5 385.5ZM196.5 362.5L196.5 366.5L198.5 368.5L203.5 368.5L205.5 367.5L206.5 365.5L206.5 361.5L203.5 359.5L199.5 359.5ZM361.5 315.5L359.5 316.5L357.5 319.5L357.5 321.5L356.5 322.5L356.5 328.5L358.5 332.5L362.5 334.5L365.5 332.5L367.5 328.5L367.5 320.5L364.5 316.5ZM231.5 269.5L229.5 269.5L228.5 270.5L228.5 273.5L229.5 274.5L231.5 273.5ZM414.5 259.5L414.5 265.5L416.5 269.5L423.5 275.5L425.5 275.5L429.5 277.5L433.5 277.5L439.5 274.5L440.5 272.5L440.5 266.5L438.5 262.5L434.5 258.5L428.5 255.5L418.5 255.5ZM340.5 236.5L340.5 244.5L339.5 245.5L340.5 247.5L340.5 252.5L346.5 259.5L351.5 261.5L357.5 261.5L362.5 259.5L377.5 246.5L375.5 243.5L367.5 243.5L366.5 242.5L363.5 242.5L353.5 238.5L346.5 237.5L342.5 235.5ZM237.5 209.5L237.5 212.5L240.5 214.5L242.5 214.5L245.5 212.5L245.5 209.5L243.5 207.5L239.5 207.5ZM338.5 190.5L332.5 194.5L332.5 200.5L334.5 203.5L338.5 205.5L342.5 205.5L347.5 202.5L348.5 200.5L348.5 195.5L346.5 192.5L341.5 190.5ZM487.5 150.5L485.5 151.5L482.5 155.5L482.5 157.5L481.5 158.5L481.5 164.5L485.5 170.5L490.5 171.5L490.5 150.5ZM209.5 113.5L208.5 116.5L210.5 121.5L215.5 126.5L217.5 126.5L217.5 123.5L215.5 118.5ZM187.5 80.5L188.5 84.5L192.5 87.5L199.5 87.5L202.5 85.5L203.5 83.5L202.5 78.5L196.5 75.5L190.5 76.5ZM246.5 42.5L240.5 43.5L236.5 45.5L232.5 49.5L228.5 57.5L228.5 66.5L229.5 67.5L229.5 69.5L231.5 73.5L235.5 77.5L239.5 79.5L249.5 79.5L255.5 75.5L257.5 72.5L257.5 70.5L259.5 66.5L259.5 53.5L258.5 52.5L258.5 50.5L255.5 46.5L250.5 43.5L247.5 43.5ZM425.5 26.5L424.5 26.5L413.5 38.5L406.5 50.5L405.5 56.5L404.5 57.5L404.5 69.5L407.5 73.5L412.5 72.5L417.5 68.5L420.5 64.5L425.5 54.5L425.5 51.5L427.5 46.5L427.5 35.5L426.5 34.5L426.5 27.5Z"/>
<path fill="#f4962e" fill-rule="evenodd" d="M408.5 389.5L455.5 389.5L453.5 387.5L447.5 384.5L441.5 383.5L440.5 382.5L426.5 382.5L425.5 383.5L421.5 383.5L420.5 384.5L415.5 385.5ZM361.5 319.5L358.5 323.5L358.5 326.5L360.5 330.5L363.5 330.5L365.5 327.5L365.5 322.5L363.5 319.5ZM417.5 260.5L417.5 266.5L422.5 272.5L429.5 275.5L435.5 274.5L437.5 272.5L438.5 267.5L436.5 263.5L432.5 259.5L427.5 257.5L421.5 257.5ZM342.5 243.5L342.5 251.5L343.5 253.5L347.5 257.5L352.5 259.5L359.5 258.5L364.5 254.5L366.5 250.5L366.5 248.5L364.5 245.5L356.5 241.5L353.5 241.5L352.5 240.5L345.5 240.5ZM334.5 195.5L334.5 200.5L338.5 203.5L343.5 203.5L346.5 200.5L346.5 195.5L342.5 192.5L338.5 192.5ZM487.5 152.5L485.5 153.5L483.5 156.5L482.5 163.5L483.5 164.5L483.5 166.5L486.5 169.5L490.5 169.5L490.5 152.5ZM211.5 117.5L211.5 120.5L215.5 123.5L214.5 119.5ZM199.5 77.5L196.5 77.5L195.5 76.5L194.5 77.5L191.5 77.5L189.5 79.5L189.5 83.5L193.5 86.5L197.5 86.5L201.5 83.5L201.5 79.5ZM241.5 43.5L237.5 45.5L231.5 51.5L229.5 56.5L229.5 59.5L228.5 60.5L228.5 64.5L231.5 72.5L236.5 77.5L241.5 79.5L247.5 79.5L252.5 77.5L257.5 71.5L258.5 65.5L259.5 64.5L259.5 54.5L256.5 48.5L251.5 44.5L249.5 44.5L248.5 43.5ZM424.5 32.5L422.5 32.5L419.5 34.5L412.5 41.5L408.5 48.5L408.5 50.5L406.5 54.5L406.5 57.5L405.5 58.5L405.5 65.5L406.5 66.5L406.5 68.5L408.5 70.5L412.5 70.5L414.5 69.5L418.5 65.5L424.5 54.5L425.5 48.5L426.5 47.5L426.5 37.5Z"/>
<path fill="#f08824" fill-rule="evenodd" d="M410.5 389.5L454.5 389.5L447.5 385.5L441.5 384.5L440.5 383.5L425.5 383.5L424.5 384.5L421.5 384.5L420.5 385.5L415.5 386.5ZM420.5 262.5L420.5 266.5L423.5 270.5L427.5 272.5L433.5 272.5L435.5 270.5L435.5 266.5L431.5 261.5L424.5 259.5ZM345.5 245.5L344.5 249.5L345.5 250.5L345.5 252.5L348.5 255.5L350.5 256.5L357.5 256.5L360.5 254.5L361.5 252.5L361.5 248.5L357.5 244.5L355.5 244.5L354.5 243.5L347.5 243.5ZM338.5 194.5L336.5 196.5L336.5 199.5L338.5 201.5L342.5 201.5L344.5 199.5L344.5 196.5L342.5 194.5ZM487.5 154.5L484.5 157.5L484.5 160.5L483.5 161.5L484.5 162.5L484.5 165.5L487.5 168.5L490.5 168.5L490.5 154.5ZM191.5 80.5L191.5 83.5L193.5 84.5L198.5 84.5L200.5 81.5L199.5 79.5L197.5 78.5L193.5 78.5ZM246.5 43.5L240.5 44.5L236.5 46.5L231.5 52.5L229.5 57.5L229.5 66.5L231.5 71.5L237.5 77.5L239.5 77.5L240.5 78.5L248.5 78.5L249.5 77.5L251.5 77.5L256.5 72.5L258.5 67.5L258.5 63.5L259.5 62.5L259.5 56.5L258.5 55.5L257.5 50.5L252.5 45.5L247.5 44.5ZM422.5 35.5L419.5 36.5L414.5 40.5L410.5 46.5L410.5 48.5L408.5 51.5L408.5 53.5L407.5 54.5L407.5 66.5L409.5 68.5L414.5 67.5L419.5 62.5L423.5 54.5L424.5 48.5L425.5 47.5L425.5 39.5Z"/>
<path fill="#ea7c1e" fill-rule="evenodd" d="M412.5 389.5L452.5 389.5L447.5 386.5L441.5 385.5L440.5 384.5L425.5 384.5L424.5 385.5L421.5 385.5L420.5 386.5L415.5 387.5ZM425.5 263.5L424.5 264.5L424.5 266.5L427.5 269.5L430.5 269.5L431.5 268.5L431.5 265.5L428.5 263.5ZM348.5 247.5L348.5 251.5L350.5 253.5L355.5 253.5L357.5 251.5L356.5 247.5L354.5 246.5L349.5 246.5ZM487.5 156.5L485.5 159.5L485.5 163.5L487.5 166.5L490.5 166.5L490.5 156.5ZM193.5 81.5L194.5 82.5L197.5 82.5L196.5 80.5L194.5 80.5ZM241.5 44.5L237.5 46.5L232.5 51.5L229.5 59.5L229.5 64.5L230.5 65.5L231.5 70.5L235.5 75.5L242.5 78.5L246.5 78.5L253.5 75.5L255.5 73.5L258.5 66.5L258.5 54.5L257.5 53.5L257.5 51.5L251.5 45.5L249.5 45.5L248.5 44.5ZM422.5 38.5L417.5 39.5L414.5 42.5L409.5 51.5L409.5 54.5L408.5 55.5L408.5 63.5L410.5 66.5L414.5 65.5L419.5 60.5L422.5 54.5L423.5 48.5L424.5 47.5L424.5 41.5Z"/>
<path fill="#e47117" fill-rule="evenodd" d="M414.5 389.5L450.5 389.5L447.5 387.5L445.5 387.5L441.5 385.5L424.5 385.5ZM488.5 158.5L487.5 159.5L487.5 162.5L488.5 163.5L490.5 163.5L490.5 159.5ZM245.5 44.5L240.5 45.5L235.5 48.5L232.5 52.5L230.5 57.5L230.5 66.5L231.5 67.5L231.5 69.5L236.5 75.5L240.5 77.5L248.5 77.5L252.5 75.5L255.5 72.5L258.5 64.5L258.5 55.5L257.5 54.5L257.5 52.5L253.5 47.5ZM421.5 40.5L417.5 41.5L411.5 49.5L410.5 55.5L409.5 56.5L409.5 60.5L410.5 61.5L410.5 63.5L412.5 64.5L416.5 62.5L421.5 54.5L422.5 47.5L423.5 46.5L423.5 44.5Z"/>
<path fill="#da6711" fill-rule="evenodd" d="M416.5 389.5L448.5 389.5L447.5 388.5L445.5 388.5L441.5 386.5L437.5 386.5L436.5 385.5L423.5 386.5ZM241.5 45.5L237.5 47.5L232.5 53.5L231.5 58.5L230.5 59.5L230.5 64.5L231.5 65.5L232.5 70.5L237.5 75.5L242.5 77.5L246.5 77.5L251.5 75.5L255.5 71.5L257.5 67.5L258.5 57.5L257.5 56.5L256.5 51.5L252.5 47.5L248.5 45.5ZM419.5 42.5L414.5 46.5L412.5 50.5L412.5 52.5L411.5 53.5L411.5 60.5L412.5 61.5L414.5 61.5L418.5 57.5L420.5 53.5L420.5 51.5L421.5 50.5L421.5 44.5Z"/>
<path fill="#d25e0d" fill-rule="evenodd" d="M417.5 389.5L447.5 389.5L442.5 387.5L439.5 387.5L438.5 386.5L427.5 386.5L426.5 387.5L423.5 387.5L422.5 388.5ZM418.5 45.5L413.5 51.5L413.5 57.5L414.5 58.5L417.5 56.5L419.5 52.5L419.5 46.5ZM245.5 45.5L244.5 46.5L240.5 46.5L238.5 47.5L233.5 52.5L231.5 57.5L231.5 66.5L232.5 67.5L232.5 69.5L235.5 73.5L240.5 76.5L248.5 76.5L252.5 74.5L254.5 72.5L257.5 65.5L257.5 55.5L256.5 54.5L256.5 52.5L251.5 47.5L246.5 46.5Z"/>
<path fill="#cc560b" fill-rule="evenodd" d="M419.5 389.5L445.5 389.5L443.5 389.5L439.5 387.5L426.5 387.5L425.5 388.5ZM242.5 46.5L241.5 47.5L239.5 47.5L233.5 53.5L231.5 58.5L231.5 64.5L234.5 71.5L237.5 74.5L242.5 76.5L246.5 76.5L251.5 74.5L254.5 71.5L257.5 64.5L257.5 56.5L256.5 55.5L256.5 53.5L253.5 49.5L247.5 46.5Z"/>
<path fill="#fafad2" fill-rule="evenodd" d="M348.5 373.5L349.5 377.5L352.5 380.5L359.5 383.5L372.5 383.5L380.5 379.5L382.5 376.5L382.5 372.5L379.5 369.5L371.5 366.5L360.5 366.5L359.5 367.5L356.5 367.5L351.5 369.5ZM178.5 110.5L178.5 344.5L183.5 341.5L191.5 340.5L192.5 339.5L202.5 339.5L203.5 340.5L208.5 340.5L209.5 341.5L213.5 341.5L220.5 344.5L224.5 347.5L231.5 355.5L237.5 370.5L237.5 373.5L240.5 381.5L240.5 384.5L243.5 389.5L278.5 389.5L279.5 388.5L284.5 388.5L285.5 387.5L290.5 387.5L291.5 386.5L297.5 386.5L298.5 385.5L302.5 385.5L303.5 384.5L308.5 383.5L319.5 374.5L326.5 370.5L332.5 363.5L332.5 351.5L331.5 350.5L331.5 341.5L330.5 340.5L330.5 327.5L331.5 326.5L331.5 319.5L332.5 318.5L332.5 301.5L331.5 300.5L331.5 297.5L326.5 289.5L305.5 269.5L303.5 265.5L303.5 262.5L302.5 261.5L302.5 250.5L303.5 249.5L303.5 246.5L308.5 237.5L308.5 232.5L306.5 230.5L301.5 230.5L288.5 238.5L286.5 238.5L282.5 240.5L279.5 240.5L278.5 241.5L274.5 241.5L273.5 242.5L266.5 243.5L254.5 249.5L248.5 256.5L247.5 262.5L246.5 263.5L245.5 275.5L241.5 285.5L232.5 293.5L229.5 293.5L228.5 294.5L221.5 293.5L216.5 288.5L216.5 281.5L215.5 280.5L215.5 278.5L216.5 277.5L216.5 268.5L217.5 267.5L217.5 263.5L220.5 257.5L220.5 255.5L222.5 253.5L226.5 245.5L227.5 238.5L226.5 237.5L226.5 230.5L225.5 229.5L224.5 224.5L216.5 212.5L215.5 208.5L216.5 207.5L216.5 205.5L231.5 189.5L233.5 184.5L233.5 174.5L230.5 168.5L225.5 162.5L215.5 140.5L210.5 133.5L202.5 125.5L195.5 122.5L191.5 122.5L190.5 121.5L185.5 120.5L179.5 114.5ZM192.5 14.5L189.5 18.5L189.5 21.5L197.5 34.5L197.5 37.5L198.5 38.5L197.5 59.5L198.5 61.5L201.5 63.5L203.5 63.5L207.5 65.5L210.5 65.5L211.5 66.5L215.5 66.5L216.5 67.5L219.5 66.5L220.5 65.5L221.5 60.5L228.5 46.5L232.5 41.5L238.5 37.5L241.5 37.5L242.5 36.5L252.5 37.5L257.5 40.5L260.5 43.5L262.5 47.5L262.5 50.5L263.5 51.5L263.5 61.5L262.5 62.5L262.5 67.5L261.5 68.5L260.5 75.5L257.5 81.5L251.5 86.5L236.5 89.5L234.5 91.5L233.5 95.5L230.5 100.5L230.5 102.5L227.5 107.5L227.5 109.5L226.5 110.5L226.5 120.5L228.5 125.5L233.5 130.5L235.5 130.5L236.5 131.5L247.5 131.5L248.5 130.5L251.5 130.5L258.5 126.5L263.5 120.5L265.5 115.5L269.5 112.5L279.5 113.5L280.5 114.5L287.5 114.5L288.5 113.5L292.5 113.5L297.5 111.5L301.5 111.5L304.5 113.5L306.5 113.5L313.5 116.5L317.5 116.5L318.5 117.5L322.5 117.5L323.5 118.5L329.5 119.5L335.5 122.5L343.5 129.5L351.5 134.5L358.5 141.5L362.5 148.5L366.5 152.5L373.5 155.5L378.5 155.5L379.5 156.5L394.5 156.5L395.5 157.5L397.5 157.5L401.5 159.5L407.5 166.5L405.5 170.5L396.5 174.5L390.5 178.5L381.5 188.5L381.5 189.5L370.5 199.5L367.5 206.5L367.5 210.5L370.5 215.5L374.5 217.5L382.5 217.5L387.5 215.5L392.5 215.5L393.5 216.5L409.5 216.5L410.5 215.5L413.5 215.5L414.5 214.5L419.5 213.5L429.5 208.5L432.5 205.5L439.5 201.5L442.5 201.5L446.5 205.5L446.5 207.5L447.5 208.5L447.5 217.5L448.5 218.5L448.5 227.5L449.5 228.5L449.5 232.5L450.5 233.5L451.5 238.5L453.5 241.5L453.5 243.5L457.5 250.5L457.5 252.5L461.5 260.5L461.5 263.5L462.5 264.5L463.5 271.5L464.5 272.5L464.5 284.5L463.5 285.5L462.5 290.5L455.5 298.5L436.5 308.5L430.5 314.5L427.5 322.5L427.5 333.5L430.5 341.5L437.5 348.5L463.5 363.5L475.5 374.5L475.5 375.5L480.5 380.5L485.5 389.5L490.5 389.5L490.5 186.5L481.5 185.5L475.5 182.5L469.5 176.5L466.5 169.5L466.5 163.5L465.5 162.5L465.5 159.5L466.5 158.5L466.5 151.5L471.5 139.5L479.5 130.5L490.5 122.5L490.5 101.5L483.5 97.5L481.5 97.5L475.5 93.5L471.5 88.5L468.5 81.5L468.5 74.5L469.5 73.5L470.5 67.5L473.5 61.5L477.5 55.5L486.5 46.5L490.5 44.5L490.5 19.5L485.5 18.5L477.5 14.5ZM351.5 98.5L353.5 96.5L355.5 96.5L356.5 97.5L356.5 99.5L355.5 100.5L353.5 100.5ZM309.5 23.5L313.5 25.5L317.5 29.5L320.5 35.5L321.5 41.5L322.5 42.5L322.5 46.5L323.5 47.5L323.5 53.5L324.5 54.5L324.5 68.5L322.5 72.5L322.5 86.5L320.5 91.5L312.5 102.5L307.5 107.5L305.5 108.5L301.5 108.5L299.5 105.5L299.5 91.5L305.5 77.5L305.5 68.5L304.5 67.5L303.5 56.5L302.5 55.5L301.5 48.5L299.5 44.5L297.5 33.5L299.5 29.5L303.5 25.5ZM429.5 14.5L435.5 19.5L438.5 27.5L438.5 40.5L437.5 41.5L437.5 46.5L436.5 47.5L436.5 50.5L435.5 51.5L433.5 59.5L428.5 69.5L422.5 78.5L410.5 90.5L404.5 93.5L396.5 93.5L388.5 88.5L384.5 80.5L384.5 68.5L385.5 67.5L385.5 62.5L386.5 61.5L386.5 58.5L387.5 57.5L389.5 49.5L396.5 36.5L406.5 26.5L411.5 23.5L420.5 15.5L422.5 14.5Z"/>
<path fill="#f0f5bc" fill-rule="evenodd" d="M352.5 372.5L352.5 377.5L354.5 379.5L358.5 381.5L362.5 381.5L363.5 382.5L368.5 382.5L369.5 381.5L375.5 380.5L379.5 376.5L378.5 371.5L372.5 368.5L359.5 368.5L354.5 370.5ZM178.5 317.5L178.5 335.5L195.5 335.5L196.5 336.5L201.5 336.5L202.5 337.5L219.5 339.5L226.5 342.5L236.5 351.5L244.5 367.5L248.5 373.5L253.5 377.5L255.5 377.5L256.5 378.5L266.5 379.5L267.5 378.5L294.5 378.5L295.5 377.5L302.5 377.5L310.5 374.5L317.5 369.5L321.5 364.5L323.5 359.5L323.5 353.5L324.5 352.5L324.5 329.5L325.5 328.5L325.5 323.5L326.5 322.5L326.5 318.5L327.5 317.5L327.5 303.5L326.5 302.5L326.5 299.5L320.5 289.5L316.5 285.5L310.5 281.5L300.5 271.5L296.5 264.5L295.5 259.5L291.5 252.5L287.5 249.5L285.5 249.5L284.5 248.5L272.5 248.5L271.5 249.5L268.5 249.5L262.5 252.5L255.5 259.5L251.5 267.5L251.5 269.5L248.5 276.5L248.5 279.5L244.5 289.5L242.5 292.5L233.5 300.5L220.5 306.5L197.5 310.5L193.5 312.5L190.5 312.5L189.5 313.5L184.5 314.5ZM469.5 188.5L464.5 192.5L462.5 197.5L461.5 205.5L460.5 206.5L460.5 211.5L459.5 212.5L459.5 219.5L458.5 220.5L458.5 230.5L459.5 231.5L459.5 236.5L460.5 237.5L461.5 244.5L463.5 248.5L463.5 251.5L466.5 258.5L467.5 266.5L468.5 267.5L468.5 271.5L469.5 272.5L470.5 293.5L468.5 298.5L465.5 301.5L456.5 307.5L453.5 308.5L451.5 310.5L448.5 311.5L441.5 317.5L438.5 322.5L437.5 330.5L438.5 331.5L439.5 336.5L446.5 344.5L472.5 360.5L486.5 373.5L490.5 375.5L490.5 189.5ZM423.5 180.5L420.5 178.5L418.5 178.5L414.5 176.5L401.5 176.5L396.5 178.5L392.5 181.5L388.5 186.5L384.5 195.5L380.5 199.5L375.5 201.5L372.5 204.5L371.5 206.5L371.5 210.5L372.5 212.5L376.5 214.5L379.5 214.5L385.5 211.5L393.5 211.5L394.5 212.5L399.5 212.5L400.5 213.5L402.5 213.5L403.5 212.5L408.5 212.5L414.5 209.5L419.5 205.5L425.5 193.5L425.5 184.5ZM178.5 120.5L178.5 296.5L181.5 296.5L182.5 295.5L189.5 294.5L201.5 288.5L207.5 284.5L210.5 281.5L212.5 277.5L213.5 271.5L214.5 270.5L214.5 266.5L215.5 265.5L215.5 261.5L216.5 260.5L216.5 255.5L217.5 254.5L216.5 238.5L221.5 231.5L221.5 223.5L218.5 218.5L209.5 209.5L209.5 206.5L213.5 202.5L216.5 201.5L225.5 193.5L227.5 190.5L228.5 184.5L227.5 183.5L226.5 178.5L216.5 166.5L216.5 164.5L215.5 163.5L215.5 148.5L214.5 147.5L214.5 143.5L209.5 134.5L203.5 128.5L199.5 126.5L182.5 124.5L180.5 123.5ZM197.5 20.5L197.5 26.5L198.5 27.5L199.5 34.5L200.5 35.5L200.5 53.5L201.5 54.5L201.5 56.5L206.5 60.5L209.5 60.5L210.5 61.5L217.5 61.5L219.5 60.5L225.5 52.5L226.5 48.5L229.5 43.5L234.5 38.5L240.5 35.5L250.5 35.5L251.5 36.5L253.5 36.5L257.5 38.5L262.5 44.5L262.5 46.5L263.5 47.5L263.5 63.5L262.5 64.5L262.5 69.5L261.5 70.5L261.5 73.5L260.5 74.5L259.5 79.5L256.5 85.5L248.5 93.5L247.5 93.5L233.5 105.5L230.5 109.5L228.5 114.5L228.5 120.5L229.5 121.5L229.5 123.5L231.5 126.5L235.5 129.5L238.5 129.5L239.5 130.5L246.5 130.5L254.5 127.5L258.5 123.5L260.5 119.5L261.5 107.5L263.5 105.5L278.5 111.5L288.5 111.5L293.5 109.5L296.5 106.5L297.5 101.5L298.5 100.5L299.5 90.5L304.5 78.5L304.5 65.5L303.5 64.5L303.5 59.5L302.5 58.5L302.5 54.5L300.5 50.5L300.5 47.5L294.5 33.5L294.5 28.5L299.5 23.5L306.5 19.5L311.5 19.5L316.5 22.5L321.5 28.5L324.5 36.5L325.5 50.5L326.5 51.5L326.5 59.5L327.5 60.5L327.5 64.5L324.5 72.5L324.5 82.5L325.5 83.5L325.5 88.5L315.5 99.5L311.5 106.5L311.5 109.5L316.5 113.5L333.5 116.5L338.5 119.5L348.5 128.5L361.5 133.5L363.5 135.5L367.5 144.5L371.5 148.5L373.5 148.5L374.5 149.5L383.5 149.5L384.5 148.5L389.5 148.5L390.5 147.5L399.5 148.5L405.5 152.5L414.5 161.5L422.5 166.5L431.5 176.5L433.5 176.5L434.5 177.5L445.5 177.5L452.5 174.5L454.5 171.5L456.5 166.5L457.5 156.5L458.5 155.5L458.5 151.5L459.5 150.5L460.5 145.5L468.5 133.5L471.5 130.5L475.5 123.5L483.5 114.5L483.5 108.5L467.5 96.5L463.5 89.5L463.5 86.5L462.5 85.5L462.5 78.5L463.5 77.5L463.5 74.5L464.5 73.5L465.5 68.5L475.5 49.5L485.5 37.5L487.5 33.5L487.5 28.5L486.5 26.5L480.5 20.5L470.5 14.5L433.5 14.5L435.5 15.5L438.5 19.5L439.5 24.5L440.5 25.5L440.5 39.5L439.5 40.5L438.5 50.5L437.5 51.5L436.5 56.5L434.5 59.5L434.5 61.5L428.5 70.5L427.5 73.5L416.5 86.5L416.5 87.5L406.5 95.5L400.5 96.5L399.5 97.5L381.5 97.5L377.5 93.5L377.5 79.5L378.5 78.5L378.5 73.5L379.5 72.5L379.5 68.5L380.5 67.5L383.5 52.5L384.5 51.5L385.5 46.5L387.5 43.5L387.5 41.5L391.5 34.5L400.5 25.5L420.5 14.5L204.5 14.5ZM346.5 96.5L351.5 92.5L358.5 92.5L363.5 96.5L364.5 100.5L360.5 104.5L353.5 105.5L347.5 102.5L346.5 100.5Z"/>
<path fill="#e8f1ae" fill-rule="evenodd" d="M354.5 373.5L354.5 376.5L357.5 379.5L359.5 379.5L360.5 380.5L371.5 380.5L375.5 378.5L377.5 375.5L376.5 372.5L371.5 369.5L360.5 369.5ZM268.5 254.5L263.5 257.5L259.5 261.5L255.5 268.5L255.5 270.5L252.5 277.5L252.5 281.5L251.5 282.5L251.5 287.5L250.5 288.5L250.5 294.5L249.5 295.5L249.5 302.5L248.5 303.5L248.5 306.5L246.5 311.5L241.5 316.5L236.5 318.5L229.5 318.5L217.5 313.5L205.5 313.5L200.5 315.5L193.5 321.5L192.5 323.5L192.5 327.5L196.5 331.5L205.5 335.5L219.5 335.5L227.5 332.5L233.5 332.5L234.5 333.5L236.5 333.5L240.5 335.5L247.5 342.5L252.5 350.5L262.5 359.5L284.5 368.5L288.5 368.5L289.5 369.5L300.5 369.5L308.5 366.5L314.5 360.5L317.5 353.5L317.5 350.5L318.5 349.5L318.5 339.5L319.5 338.5L319.5 329.5L320.5 328.5L320.5 325.5L322.5 320.5L322.5 316.5L323.5 315.5L323.5 305.5L322.5 304.5L322.5 301.5L318.5 293.5L310.5 285.5L301.5 279.5L296.5 274.5L291.5 264.5L286.5 257.5L278.5 253.5ZM484.5 194.5L483.5 195.5L478.5 196.5L475.5 198.5L470.5 206.5L470.5 209.5L468.5 214.5L468.5 219.5L467.5 220.5L468.5 239.5L469.5 240.5L469.5 244.5L470.5 245.5L470.5 249.5L471.5 250.5L471.5 256.5L472.5 257.5L473.5 283.5L474.5 284.5L474.5 289.5L475.5 290.5L475.5 294.5L476.5 295.5L477.5 302.5L474.5 306.5L456.5 315.5L449.5 323.5L449.5 325.5L448.5 326.5L448.5 331.5L451.5 337.5L460.5 345.5L475.5 352.5L477.5 352.5L487.5 356.5L490.5 356.5L490.5 194.5ZM410.5 179.5L400.5 179.5L396.5 181.5L392.5 185.5L388.5 196.5L388.5 204.5L393.5 208.5L399.5 209.5L400.5 210.5L407.5 209.5L412.5 206.5L416.5 201.5L418.5 197.5L419.5 189.5L417.5 184.5L414.5 181.5ZM198.5 128.5L184.5 128.5L183.5 129.5L178.5 129.5L178.5 292.5L185.5 291.5L196.5 286.5L204.5 280.5L208.5 275.5L210.5 271.5L211.5 264.5L212.5 263.5L212.5 254.5L211.5 253.5L211.5 249.5L209.5 245.5L209.5 239.5L218.5 230.5L218.5 228.5L219.5 227.5L219.5 224.5L217.5 220.5L212.5 215.5L206.5 212.5L198.5 211.5L197.5 210.5L192.5 209.5L191.5 208.5L191.5 204.5L197.5 201.5L208.5 201.5L209.5 200.5L212.5 200.5L218.5 197.5L223.5 192.5L225.5 188.5L224.5 182.5L220.5 177.5L212.5 173.5L202.5 172.5L198.5 170.5L198.5 168.5L208.5 155.5L211.5 147.5L211.5 142.5L208.5 135.5L204.5 131.5ZM241.5 104.5L237.5 106.5L232.5 111.5L230.5 115.5L230.5 121.5L231.5 123.5L237.5 128.5L240.5 128.5L241.5 129.5L249.5 128.5L254.5 125.5L257.5 121.5L257.5 118.5L258.5 117.5L257.5 111.5L256.5 109.5L250.5 104.5ZM464.5 14.5L439.5 14.5L441.5 16.5L441.5 18.5L442.5 19.5L442.5 24.5L443.5 25.5L443.5 38.5L442.5 39.5L441.5 49.5L438.5 55.5L438.5 57.5L435.5 61.5L433.5 66.5L426.5 75.5L424.5 79.5L417.5 87.5L417.5 88.5L409.5 96.5L403.5 99.5L392.5 101.5L388.5 103.5L384.5 107.5L380.5 116.5L379.5 128.5L376.5 135.5L376.5 138.5L377.5 139.5L384.5 139.5L385.5 138.5L394.5 138.5L395.5 139.5L399.5 139.5L405.5 143.5L409.5 150.5L416.5 157.5L424.5 160.5L430.5 160.5L438.5 157.5L450.5 143.5L456.5 140.5L465.5 131.5L467.5 127.5L468.5 120.5L469.5 119.5L468.5 118.5L468.5 114.5L466.5 110.5L463.5 107.5L455.5 102.5L452.5 99.5L451.5 95.5L452.5 94.5L452.5 91.5L454.5 88.5L455.5 83.5L457.5 80.5L457.5 78.5L463.5 67.5L463.5 65.5L467.5 58.5L468.5 53.5L470.5 50.5L471.5 45.5L475.5 39.5L479.5 29.5L478.5 28.5L477.5 23.5L472.5 18.5ZM202.5 48.5L203.5 49.5L203.5 52.5L207.5 56.5L209.5 57.5L219.5 57.5L223.5 54.5L227.5 44.5L235.5 35.5L240.5 33.5L252.5 33.5L253.5 34.5L261.5 35.5L263.5 37.5L263.5 51.5L264.5 52.5L264.5 54.5L263.5 55.5L263.5 65.5L262.5 66.5L262.5 70.5L261.5 71.5L260.5 78.5L258.5 82.5L258.5 88.5L259.5 89.5L260.5 94.5L263.5 99.5L272.5 107.5L274.5 107.5L277.5 109.5L288.5 109.5L292.5 107.5L295.5 104.5L297.5 100.5L298.5 92.5L304.5 76.5L304.5 69.5L303.5 68.5L302.5 57.5L301.5 56.5L301.5 53.5L300.5 52.5L300.5 49.5L298.5 46.5L298.5 44.5L293.5 35.5L285.5 27.5L285.5 25.5L289.5 21.5L296.5 19.5L306.5 14.5L312.5 14.5L317.5 16.5L325.5 23.5L327.5 28.5L327.5 46.5L328.5 47.5L329.5 65.5L326.5 71.5L325.5 77.5L326.5 78.5L326.5 81.5L330.5 87.5L330.5 90.5L328.5 92.5L322.5 94.5L317.5 98.5L314.5 103.5L314.5 107.5L315.5 109.5L323.5 112.5L336.5 111.5L341.5 115.5L343.5 119.5L347.5 123.5L350.5 125.5L357.5 126.5L363.5 123.5L364.5 121.5L364.5 114.5L363.5 112.5L359.5 109.5L357.5 109.5L356.5 108.5L350.5 108.5L345.5 106.5L342.5 103.5L342.5 101.5L341.5 100.5L342.5 95.5L346.5 91.5L350.5 89.5L362.5 89.5L363.5 88.5L365.5 88.5L370.5 82.5L370.5 80.5L375.5 69.5L375.5 66.5L377.5 62.5L381.5 42.5L387.5 27.5L394.5 20.5L398.5 18.5L405.5 17.5L406.5 16.5L409.5 16.5L410.5 15.5L415.5 14.5L222.5 14.5L209.5 20.5L204.5 25.5L204.5 27.5L203.5 28.5L203.5 37.5L202.5 38.5Z"/>
<path fill="#d8ebb0" fill-rule="evenodd" d="M356.5 374.5L357.5 377.5L361.5 379.5L370.5 379.5L375.5 375.5L375.5 374.5L370.5 370.5L361.5 370.5L357.5 372.5ZM198.5 323.5L199.5 328.5L202.5 331.5L207.5 333.5L214.5 333.5L218.5 331.5L221.5 328.5L221.5 321.5L217.5 317.5L215.5 317.5L214.5 316.5L205.5 316.5L203.5 317.5ZM484.5 312.5L477.5 311.5L476.5 312.5L470.5 313.5L465.5 316.5L459.5 322.5L457.5 326.5L457.5 331.5L459.5 335.5L463.5 339.5L469.5 342.5L479.5 343.5L480.5 342.5L485.5 341.5L490.5 337.5L490.5 317.5ZM268.5 258.5L260.5 265.5L255.5 277.5L255.5 282.5L254.5 283.5L254.5 298.5L255.5 299.5L256.5 307.5L262.5 320.5L264.5 322.5L268.5 330.5L268.5 332.5L269.5 333.5L269.5 339.5L270.5 340.5L270.5 345.5L273.5 352.5L276.5 356.5L281.5 360.5L288.5 363.5L300.5 363.5L305.5 361.5L311.5 355.5L313.5 351.5L313.5 348.5L314.5 347.5L314.5 339.5L315.5 338.5L315.5 329.5L319.5 318.5L319.5 304.5L318.5 303.5L318.5 300.5L316.5 296.5L311.5 290.5L300.5 283.5L294.5 278.5L291.5 274.5L286.5 264.5L281.5 259.5L276.5 257.5ZM208.5 215.5L198.5 214.5L197.5 215.5L191.5 216.5L184.5 220.5L182.5 220.5L178.5 222.5L178.5 289.5L183.5 289.5L184.5 288.5L186.5 288.5L195.5 283.5L204.5 274.5L207.5 268.5L207.5 265.5L208.5 264.5L208.5 256.5L207.5 255.5L207.5 251.5L205.5 247.5L204.5 240.5L205.5 238.5L208.5 235.5L212.5 233.5L217.5 227.5L216.5 221.5L212.5 217.5ZM485.5 200.5L481.5 202.5L477.5 206.5L473.5 216.5L473.5 233.5L474.5 234.5L475.5 240.5L478.5 248.5L478.5 254.5L477.5 255.5L477.5 261.5L476.5 262.5L476.5 269.5L475.5 270.5L475.5 281.5L476.5 282.5L477.5 291.5L479.5 294.5L480.5 298.5L485.5 304.5L490.5 305.5L490.5 200.5ZM408.5 181.5L401.5 181.5L397.5 183.5L394.5 186.5L392.5 190.5L392.5 195.5L391.5 196.5L392.5 198.5L392.5 202.5L396.5 206.5L398.5 206.5L399.5 207.5L404.5 207.5L408.5 205.5L413.5 200.5L415.5 196.5L415.5 187.5L412.5 183.5ZM195.5 182.5L193.5 187.5L194.5 192.5L198.5 196.5L203.5 198.5L211.5 198.5L212.5 197.5L214.5 197.5L218.5 195.5L222.5 190.5L222.5 183.5L215.5 177.5L205.5 176.5L198.5 179.5ZM196.5 130.5L190.5 130.5L189.5 131.5L184.5 132.5L179.5 138.5L179.5 147.5L182.5 153.5L186.5 156.5L193.5 157.5L194.5 156.5L200.5 155.5L203.5 153.5L207.5 148.5L207.5 146.5L208.5 145.5L208.5 140.5L207.5 139.5L207.5 137.5L202.5 132.5L197.5 131.5ZM348.5 114.5L348.5 117.5L351.5 120.5L355.5 120.5L357.5 118.5L356.5 114.5L354.5 113.5L349.5 113.5ZM241.5 107.5L237.5 109.5L233.5 113.5L232.5 115.5L232.5 121.5L233.5 123.5L238.5 127.5L248.5 127.5L253.5 124.5L255.5 121.5L255.5 113.5L252.5 109.5L248.5 107.5ZM335.5 99.5L332.5 96.5L329.5 96.5L328.5 95.5L322.5 96.5L320.5 97.5L316.5 102.5L316.5 106.5L320.5 109.5L329.5 109.5L334.5 106.5L335.5 104.5ZM277.5 31.5L271.5 34.5L268.5 37.5L264.5 44.5L264.5 59.5L263.5 60.5L263.5 67.5L262.5 68.5L259.5 83.5L260.5 84.5L261.5 91.5L264.5 97.5L269.5 103.5L279.5 108.5L286.5 108.5L291.5 106.5L296.5 100.5L298.5 90.5L303.5 78.5L303.5 65.5L302.5 64.5L302.5 59.5L301.5 58.5L300.5 51.5L295.5 40.5L288.5 33.5L283.5 31.5ZM215.5 28.5L211.5 30.5L206.5 36.5L206.5 38.5L205.5 39.5L205.5 50.5L207.5 53.5L211.5 55.5L220.5 55.5L223.5 52.5L225.5 48.5L225.5 45.5L228.5 39.5L228.5 33.5L227.5 31.5L223.5 28.5ZM465.5 17.5L462.5 17.5L461.5 16.5L451.5 16.5L448.5 18.5L447.5 20.5L447.5 34.5L448.5 35.5L449.5 42.5L446.5 49.5L436.5 64.5L433.5 67.5L431.5 71.5L428.5 74.5L424.5 81.5L415.5 93.5L408.5 100.5L406.5 101.5L402.5 101.5L401.5 102.5L396.5 102.5L391.5 104.5L387.5 108.5L385.5 112.5L385.5 116.5L384.5 117.5L385.5 118.5L385.5 122.5L387.5 126.5L390.5 129.5L394.5 131.5L396.5 131.5L397.5 132.5L406.5 132.5L410.5 135.5L410.5 139.5L411.5 140.5L411.5 145.5L412.5 146.5L412.5 148.5L416.5 153.5L420.5 155.5L428.5 155.5L430.5 154.5L433.5 151.5L435.5 147.5L436.5 140.5L438.5 138.5L450.5 138.5L451.5 137.5L453.5 137.5L457.5 135.5L462.5 130.5L464.5 126.5L464.5 117.5L462.5 113.5L457.5 109.5L452.5 107.5L442.5 107.5L431.5 111.5L429.5 109.5L429.5 105.5L431.5 102.5L451.5 83.5L455.5 77.5L462.5 63.5L462.5 61.5L464.5 57.5L464.5 53.5L465.5 52.5L464.5 42.5L465.5 40.5L471.5 35.5L474.5 30.5L473.5 23.5L469.5 19.5ZM372.5 17.5L370.5 17.5L366.5 15.5L363.5 15.5L362.5 14.5L339.5 14.5L336.5 17.5L332.5 27.5L331.5 35.5L330.5 36.5L330.5 57.5L331.5 58.5L331.5 65.5L327.5 73.5L327.5 78.5L329.5 82.5L337.5 88.5L345.5 88.5L350.5 86.5L358.5 85.5L366.5 78.5L367.5 75.5L369.5 73.5L369.5 71.5L371.5 68.5L371.5 66.5L374.5 59.5L374.5 55.5L375.5 54.5L375.5 50.5L376.5 49.5L376.5 42.5L377.5 41.5L377.5 23.5L375.5 19.5ZM231.5 25.5L234.5 27.5L240.5 28.5L241.5 29.5L247.5 29.5L248.5 30.5L261.5 30.5L272.5 26.5L281.5 16.5L285.5 14.5L288.5 14.5L237.5 14.5L234.5 16.5L231.5 20.5Z"/>
<path fill="#c4e4b4" fill-rule="evenodd" d="M358.5 374.5L358.5 375.5L362.5 378.5L369.5 378.5L373.5 375.5L373.5 374.5L369.5 371.5L362.5 371.5ZM202.5 322.5L202.5 327.5L207.5 331.5L212.5 331.5L213.5 330.5L215.5 330.5L218.5 326.5L217.5 321.5L213.5 318.5L207.5 318.5ZM481.5 315.5L474.5 315.5L473.5 316.5L471.5 316.5L465.5 322.5L464.5 324.5L464.5 330.5L468.5 335.5L476.5 337.5L477.5 336.5L482.5 335.5L486.5 331.5L487.5 329.5L487.5 321.5L486.5 319.5ZM269.5 261.5L262.5 267.5L258.5 275.5L258.5 278.5L257.5 279.5L257.5 286.5L256.5 287.5L258.5 301.5L262.5 310.5L274.5 327.5L274.5 330.5L275.5 331.5L275.5 345.5L277.5 350.5L279.5 353.5L285.5 358.5L290.5 359.5L291.5 360.5L297.5 360.5L304.5 357.5L308.5 353.5L310.5 349.5L310.5 347.5L311.5 346.5L311.5 331.5L312.5 330.5L312.5 327.5L316.5 317.5L316.5 305.5L315.5 304.5L314.5 299.5L312.5 296.5L306.5 290.5L300.5 287.5L292.5 281.5L289.5 277.5L284.5 267.5L279.5 262.5L277.5 261.5ZM208.5 217.5L206.5 217.5L205.5 216.5L199.5 216.5L198.5 217.5L193.5 218.5L183.5 225.5L178.5 226.5L178.5 287.5L182.5 287.5L183.5 286.5L188.5 285.5L198.5 277.5L203.5 269.5L203.5 267.5L204.5 266.5L204.5 253.5L202.5 248.5L202.5 238.5L204.5 235.5L213.5 230.5L215.5 227.5L215.5 223.5L214.5 221.5ZM486.5 204.5L482.5 206.5L479.5 209.5L475.5 219.5L475.5 228.5L476.5 229.5L476.5 233.5L480.5 241.5L485.5 248.5L484.5 253.5L479.5 262.5L479.5 265.5L477.5 270.5L477.5 283.5L478.5 284.5L478.5 288.5L481.5 295.5L486.5 300.5L490.5 301.5L490.5 204.5ZM407.5 183.5L401.5 183.5L399.5 184.5L396.5 187.5L394.5 191.5L394.5 198.5L395.5 199.5L395.5 201.5L399.5 204.5L404.5 204.5L408.5 202.5L410.5 200.5L413.5 194.5L413.5 189.5L412.5 187.5ZM202.5 180.5L197.5 186.5L198.5 191.5L202.5 195.5L204.5 195.5L205.5 196.5L212.5 196.5L216.5 194.5L220.5 190.5L220.5 184.5L216.5 180.5L211.5 179.5L210.5 178.5ZM419.5 137.5L416.5 140.5L415.5 145.5L416.5 146.5L416.5 148.5L419.5 151.5L424.5 152.5L428.5 150.5L430.5 144.5L429.5 143.5L429.5 141.5L425.5 137.5ZM201.5 134.5L199.5 133.5L195.5 133.5L194.5 132.5L193.5 133.5L189.5 133.5L187.5 134.5L183.5 139.5L183.5 144.5L185.5 148.5L189.5 151.5L198.5 151.5L203.5 148.5L205.5 144.5L205.5 139.5ZM446.5 110.5L439.5 113.5L436.5 116.5L434.5 120.5L434.5 125.5L435.5 126.5L435.5 128.5L438.5 132.5L445.5 135.5L450.5 135.5L455.5 133.5L459.5 130.5L462.5 124.5L462.5 120.5L459.5 114.5L456.5 112.5L451.5 110.5ZM241.5 109.5L235.5 113.5L234.5 115.5L234.5 121.5L235.5 123.5L239.5 126.5L247.5 126.5L252.5 123.5L254.5 119.5L254.5 116.5L251.5 111.5L247.5 109.5ZM318.5 102.5L318.5 105.5L320.5 107.5L327.5 107.5L329.5 106.5L331.5 103.5L331.5 101.5L328.5 98.5L322.5 98.5L320.5 99.5ZM458.5 51.5L453.5 51.5L447.5 54.5L437.5 64.5L428.5 76.5L416.5 94.5L415.5 97.5L411.5 102.5L409.5 103.5L399.5 103.5L398.5 104.5L395.5 104.5L389.5 108.5L387.5 112.5L387.5 121.5L392.5 127.5L397.5 129.5L402.5 129.5L403.5 128.5L408.5 127.5L414.5 120.5L415.5 113.5L417.5 108.5L422.5 103.5L430.5 98.5L446.5 85.5L455.5 73.5L459.5 65.5L461.5 55.5ZM213.5 36.5L210.5 38.5L208.5 42.5L208.5 50.5L213.5 54.5L219.5 54.5L221.5 53.5L223.5 50.5L223.5 41.5L220.5 37.5L218.5 36.5ZM279.5 33.5L272.5 36.5L268.5 40.5L265.5 45.5L265.5 49.5L264.5 50.5L264.5 62.5L263.5 63.5L263.5 68.5L262.5 69.5L260.5 83.5L261.5 84.5L261.5 87.5L264.5 95.5L271.5 103.5L276.5 106.5L285.5 107.5L292.5 104.5L296.5 98.5L297.5 92.5L302.5 80.5L303.5 69.5L302.5 68.5L302.5 61.5L301.5 60.5L300.5 53.5L297.5 47.5L297.5 45.5L290.5 36.5L283.5 33.5ZM359.5 21.5L356.5 21.5L355.5 20.5L348.5 20.5L347.5 21.5L345.5 21.5L341.5 23.5L338.5 26.5L334.5 33.5L333.5 39.5L332.5 40.5L332.5 58.5L333.5 59.5L333.5 64.5L328.5 74.5L328.5 76.5L329.5 77.5L329.5 79.5L335.5 84.5L342.5 85.5L343.5 84.5L351.5 83.5L358.5 80.5L364.5 74.5L368.5 67.5L368.5 65.5L371.5 58.5L371.5 54.5L372.5 53.5L372.5 37.5L371.5 36.5L370.5 30.5L365.5 24.5ZM451.5 24.5L451.5 29.5L455.5 34.5L457.5 34.5L458.5 35.5L463.5 35.5L467.5 33.5L470.5 30.5L470.5 24.5L467.5 21.5L463.5 19.5L457.5 19.5L456.5 20.5L454.5 20.5ZM239.5 19.5L240.5 23.5L244.5 26.5L247.5 26.5L248.5 27.5L262.5 27.5L267.5 25.5L271.5 21.5L271.5 15.5L270.5 14.5L245.5 14.5Z"/>
<path fill="#acdab8" fill-rule="evenodd" d="M361.5 373.5L361.5 376.5L363.5 377.5L368.5 377.5L370.5 376.5L370.5 373.5L368.5 372.5L363.5 372.5ZM208.5 320.5L205.5 322.5L204.5 325.5L206.5 328.5L211.5 329.5L215.5 326.5L215.5 323.5L211.5 320.5ZM478.5 317.5L473.5 318.5L469.5 322.5L469.5 324.5L468.5 325.5L469.5 329.5L472.5 332.5L474.5 332.5L475.5 333.5L480.5 332.5L484.5 328.5L484.5 322.5L481.5 318.5L479.5 318.5ZM269.5 264.5L264.5 268.5L260.5 275.5L259.5 285.5L258.5 286.5L260.5 299.5L262.5 302.5L262.5 304.5L266.5 310.5L274.5 319.5L278.5 326.5L278.5 328.5L279.5 329.5L279.5 333.5L278.5 334.5L278.5 344.5L281.5 351.5L284.5 354.5L290.5 357.5L297.5 357.5L302.5 355.5L306.5 351.5L308.5 347.5L308.5 344.5L309.5 343.5L308.5 330.5L313.5 317.5L313.5 306.5L312.5 305.5L311.5 300.5L309.5 297.5L305.5 293.5L294.5 287.5L289.5 282.5L283.5 270.5L278.5 265.5L276.5 264.5ZM490.5 254.5L488.5 255.5L481.5 263.5L481.5 265.5L479.5 269.5L479.5 273.5L478.5 274.5L478.5 281.5L479.5 282.5L480.5 289.5L482.5 293.5L488.5 298.5L490.5 298.5ZM207.5 218.5L198.5 218.5L191.5 222.5L186.5 227.5L178.5 229.5L178.5 285.5L183.5 285.5L192.5 280.5L196.5 276.5L201.5 267.5L202.5 259.5L201.5 258.5L201.5 252.5L200.5 251.5L199.5 239.5L200.5 238.5L200.5 236.5L203.5 233.5L209.5 231.5L213.5 227.5L213.5 223.5L212.5 221.5ZM485.5 207.5L480.5 211.5L478.5 215.5L478.5 217.5L477.5 218.5L477.5 229.5L478.5 230.5L479.5 235.5L481.5 238.5L486.5 242.5L490.5 243.5L490.5 207.5ZM407.5 185.5L401.5 185.5L397.5 189.5L396.5 195.5L397.5 196.5L397.5 198.5L400.5 201.5L404.5 201.5L406.5 200.5L410.5 195.5L410.5 192.5L411.5 191.5L410.5 190.5L410.5 188.5ZM203.5 182.5L200.5 186.5L200.5 189.5L203.5 193.5L205.5 194.5L213.5 194.5L218.5 190.5L218.5 184.5L216.5 182.5L211.5 180.5L208.5 180.5ZM422.5 144.5L421.5 145.5L423.5 146.5L423.5 144.5ZM187.5 139.5L187.5 143.5L188.5 145.5L193.5 148.5L199.5 147.5L202.5 143.5L202.5 139.5L201.5 137.5L197.5 135.5L192.5 135.5ZM445.5 113.5L439.5 117.5L438.5 119.5L438.5 126.5L439.5 128.5L444.5 132.5L452.5 132.5L456.5 130.5L459.5 126.5L459.5 119.5L458.5 117.5L453.5 113.5ZM235.5 117.5L236.5 122.5L240.5 125.5L246.5 125.5L250.5 123.5L252.5 120.5L252.5 116.5L251.5 114.5L247.5 111.5L241.5 111.5L239.5 112.5ZM392.5 107.5L388.5 113.5L388.5 119.5L390.5 123.5L396.5 127.5L402.5 127.5L408.5 124.5L411.5 119.5L411.5 116.5L412.5 115.5L412.5 112.5L410.5 107.5L406.5 105.5L396.5 105.5ZM321.5 101.5L320.5 103.5L322.5 105.5L326.5 105.5L327.5 104.5L327.5 101.5L325.5 100.5ZM456.5 56.5L450.5 56.5L446.5 58.5L438.5 65.5L438.5 66.5L430.5 75.5L424.5 84.5L423.5 87.5L421.5 89.5L419.5 94.5L419.5 98.5L424.5 98.5L430.5 95.5L441.5 87.5L448.5 80.5L456.5 67.5L456.5 65.5L457.5 64.5L457.5 57.5ZM211.5 46.5L211.5 50.5L213.5 52.5L220.5 52.5L222.5 49.5L221.5 46.5L216.5 43.5L213.5 44.5ZM278.5 35.5L272.5 38.5L266.5 45.5L266.5 47.5L265.5 48.5L265.5 55.5L264.5 56.5L264.5 64.5L263.5 65.5L263.5 70.5L262.5 71.5L262.5 75.5L261.5 76.5L261.5 84.5L262.5 85.5L262.5 88.5L266.5 96.5L270.5 101.5L277.5 105.5L279.5 105.5L280.5 106.5L285.5 106.5L290.5 104.5L294.5 100.5L296.5 96.5L296.5 94.5L302.5 78.5L302.5 64.5L301.5 63.5L300.5 55.5L295.5 43.5L289.5 37.5L285.5 35.5ZM358.5 26.5L356.5 26.5L355.5 25.5L348.5 25.5L347.5 26.5L345.5 26.5L343.5 27.5L336.5 35.5L336.5 37.5L334.5 41.5L334.5 47.5L333.5 48.5L335.5 64.5L330.5 73.5L330.5 78.5L335.5 82.5L343.5 82.5L354.5 78.5L363.5 70.5L367.5 62.5L368.5 55.5L369.5 54.5L369.5 42.5L368.5 41.5L367.5 35.5L365.5 32.5ZM456.5 24.5L456.5 28.5L460.5 31.5L465.5 30.5L467.5 27.5L466.5 24.5L463.5 22.5L459.5 22.5ZM244.5 19.5L244.5 21.5L247.5 24.5L249.5 24.5L250.5 25.5L260.5 25.5L266.5 22.5L266.5 17.5L263.5 15.5L260.5 15.5L259.5 14.5L250.5 15.5Z"/>
<path fill="#93d1bc" fill-rule="evenodd" d="M364.5 374.5L364.5 375.5L367.5 375.5L367.5 374.5ZM208.5 324.5L208.5 325.5L210.5 326.5L211.5 325.5L211.5 324.5ZM473.5 321.5L472.5 323.5L472.5 327.5L474.5 329.5L479.5 329.5L482.5 325.5L481.5 322.5L479.5 320.5L475.5 320.5ZM272.5 266.5L267.5 268.5L262.5 275.5L261.5 281.5L260.5 282.5L260.5 291.5L261.5 292.5L261.5 295.5L262.5 296.5L263.5 301.5L267.5 307.5L276.5 316.5L282.5 326.5L282.5 334.5L281.5 335.5L281.5 345.5L282.5 346.5L282.5 348.5L287.5 353.5L295.5 355.5L302.5 352.5L305.5 348.5L305.5 346.5L306.5 345.5L306.5 333.5L305.5 332.5L305.5 329.5L310.5 317.5L310.5 306.5L308.5 301.5L305.5 297.5L301.5 294.5L294.5 291.5L287.5 284.5L281.5 271.5L278.5 268.5ZM488.5 259.5L484.5 262.5L481.5 267.5L479.5 279.5L480.5 280.5L480.5 285.5L483.5 292.5L486.5 295.5L490.5 296.5L490.5 259.5ZM206.5 219.5L200.5 219.5L199.5 220.5L197.5 220.5L186.5 230.5L178.5 231.5L178.5 283.5L184.5 283.5L188.5 281.5L197.5 271.5L197.5 269.5L199.5 265.5L199.5 252.5L198.5 251.5L198.5 241.5L197.5 240.5L197.5 238.5L198.5 237.5L198.5 235.5L201.5 232.5L205.5 231.5L211.5 227.5L211.5 223.5L210.5 221.5ZM486.5 209.5L484.5 210.5L479.5 216.5L479.5 219.5L478.5 220.5L478.5 227.5L481.5 235.5L486.5 239.5L490.5 239.5L490.5 209.5ZM405.5 187.5L403.5 187.5L399.5 190.5L399.5 195.5L402.5 198.5L405.5 197.5L408.5 193.5L408.5 190.5L407.5 188.5ZM202.5 187.5L203.5 188.5L203.5 190.5L205.5 192.5L207.5 192.5L208.5 193.5L213.5 192.5L216.5 190.5L216.5 185.5L212.5 182.5L207.5 182.5L205.5 183.5ZM198.5 140.5L195.5 138.5L192.5 140.5L192.5 142.5L193.5 143.5L197.5 143.5L198.5 142.5ZM446.5 115.5L441.5 119.5L440.5 124.5L445.5 130.5L452.5 130.5L454.5 129.5L457.5 125.5L457.5 119.5L452.5 115.5ZM238.5 115.5L237.5 120.5L239.5 123.5L245.5 124.5L249.5 122.5L250.5 120.5L250.5 116.5L247.5 113.5L241.5 113.5ZM404.5 106.5L396.5 106.5L390.5 111.5L389.5 113.5L389.5 118.5L390.5 119.5L390.5 121.5L393.5 124.5L400.5 126.5L405.5 124.5L408.5 121.5L410.5 117.5L410.5 113.5L409.5 112.5L409.5 110.5ZM453.5 59.5L450.5 59.5L444.5 62.5L440.5 65.5L432.5 74.5L424.5 87.5L424.5 89.5L423.5 90.5L423.5 93.5L424.5 94.5L431.5 92.5L441.5 85.5L446.5 80.5L454.5 67.5L455.5 61.5ZM214.5 48.5L214.5 50.5L216.5 51.5L218.5 51.5L219.5 50.5L219.5 48.5ZM279.5 36.5L274.5 38.5L266.5 47.5L266.5 50.5L265.5 51.5L265.5 58.5L264.5 59.5L264.5 66.5L263.5 67.5L263.5 71.5L262.5 72.5L262.5 85.5L265.5 93.5L273.5 102.5L280.5 105.5L285.5 105.5L290.5 103.5L295.5 97.5L295.5 95.5L297.5 92.5L297.5 90.5L301.5 80.5L301.5 77.5L302.5 76.5L302.5 68.5L301.5 67.5L301.5 61.5L300.5 60.5L299.5 53.5L294.5 43.5L287.5 37.5L285.5 37.5L284.5 36.5ZM355.5 29.5L347.5 29.5L343.5 31.5L339.5 35.5L336.5 41.5L336.5 45.5L335.5 46.5L335.5 55.5L336.5 56.5L337.5 65.5L331.5 74.5L332.5 78.5L335.5 80.5L342.5 80.5L356.5 73.5L361.5 68.5L364.5 63.5L364.5 61.5L366.5 57.5L366.5 42.5L363.5 35.5L359.5 31.5ZM249.5 21.5L252.5 23.5L258.5 23.5L260.5 22.5L262.5 19.5L258.5 17.5L253.5 17.5L251.5 18.5Z"/>
<path fill="#79c7be" fill-rule="evenodd" d="M476.5 325.5L478.5 324.5L476.5 324.5ZM270.5 269.5L265.5 273.5L263.5 277.5L263.5 279.5L262.5 280.5L262.5 293.5L266.5 302.5L280.5 316.5L285.5 324.5L286.5 329.5L285.5 330.5L285.5 333.5L283.5 338.5L283.5 344.5L285.5 348.5L290.5 352.5L297.5 352.5L303.5 347.5L303.5 345.5L304.5 344.5L304.5 337.5L302.5 332.5L302.5 327.5L307.5 318.5L307.5 315.5L308.5 314.5L307.5 306.5L305.5 302.5L301.5 298.5L291.5 293.5L287.5 289.5L284.5 283.5L284.5 281.5L279.5 272.5L275.5 269.5ZM490.5 261.5L489.5 262.5L487.5 262.5L482.5 268.5L482.5 270.5L481.5 271.5L481.5 276.5L480.5 277.5L482.5 288.5L487.5 294.5L490.5 294.5ZM207.5 221.5L199.5 221.5L195.5 224.5L193.5 228.5L190.5 231.5L188.5 232.5L184.5 232.5L183.5 233.5L178.5 233.5L178.5 282.5L185.5 281.5L188.5 279.5L195.5 271.5L195.5 269.5L197.5 266.5L197.5 250.5L196.5 249.5L196.5 239.5L195.5 238.5L195.5 235.5L198.5 231.5L206.5 229.5L209.5 227.5L209.5 223.5ZM485.5 211.5L480.5 217.5L479.5 226.5L480.5 227.5L480.5 230.5L483.5 235.5L486.5 237.5L490.5 237.5L490.5 211.5ZM205.5 186.5L206.5 190.5L208.5 191.5L211.5 191.5L214.5 189.5L214.5 186.5L212.5 184.5L208.5 184.5ZM447.5 117.5L443.5 120.5L443.5 125.5L447.5 128.5L451.5 128.5L454.5 126.5L455.5 121.5L453.5 118.5L451.5 117.5ZM241.5 115.5L239.5 117.5L239.5 120.5L241.5 122.5L246.5 122.5L248.5 120.5L248.5 116.5L244.5 114.5ZM396.5 107.5L391.5 111.5L390.5 113.5L390.5 118.5L392.5 122.5L395.5 124.5L398.5 124.5L399.5 125.5L400.5 124.5L403.5 124.5L406.5 122.5L408.5 119.5L408.5 112.5L407.5 110.5L403.5 107.5ZM452.5 63.5L448.5 62.5L444.5 64.5L435.5 72.5L427.5 84.5L427.5 86.5L426.5 87.5L426.5 89.5L427.5 90.5L430.5 90.5L436.5 87.5L445.5 79.5L451.5 70.5ZM279.5 37.5L274.5 39.5L268.5 45.5L266.5 49.5L265.5 61.5L264.5 62.5L263.5 74.5L262.5 75.5L262.5 82.5L266.5 93.5L273.5 101.5L279.5 104.5L285.5 104.5L290.5 102.5L295.5 96.5L297.5 88.5L299.5 85.5L299.5 83.5L301.5 79.5L301.5 63.5L300.5 62.5L300.5 58.5L299.5 57.5L298.5 52.5L294.5 44.5L287.5 38.5L285.5 38.5L284.5 37.5ZM354.5 32.5L347.5 32.5L342.5 35.5L339.5 39.5L339.5 41.5L337.5 45.5L337.5 57.5L338.5 58.5L339.5 66.5L333.5 74.5L333.5 76.5L335.5 78.5L341.5 78.5L348.5 73.5L355.5 70.5L362.5 62.5L362.5 60.5L364.5 56.5L364.5 45.5L363.5 44.5L362.5 39.5L359.5 35.5Z"/>
<path fill="#62bcc2" fill-rule="evenodd" d="M272.5 271.5L271.5 272.5L269.5 272.5L266.5 275.5L264.5 279.5L264.5 282.5L263.5 283.5L264.5 294.5L268.5 301.5L280.5 310.5L290.5 325.5L290.5 330.5L286.5 336.5L285.5 342.5L287.5 347.5L291.5 350.5L296.5 350.5L301.5 346.5L301.5 344.5L302.5 343.5L302.5 339.5L301.5 338.5L300.5 333.5L298.5 330.5L298.5 326.5L304.5 317.5L304.5 314.5L305.5 313.5L304.5 307.5L298.5 300.5L290.5 297.5L286.5 293.5L280.5 277.5L277.5 273.5ZM488.5 264.5L486.5 265.5L483.5 269.5L481.5 280.5L482.5 281.5L482.5 285.5L484.5 289.5L487.5 292.5L490.5 293.5L490.5 264.5ZM190.5 234.5L181.5 234.5L180.5 235.5L178.5 235.5L178.5 280.5L184.5 280.5L186.5 279.5L192.5 273.5L195.5 267.5L195.5 263.5L196.5 262.5L195.5 245.5L194.5 244.5L194.5 239.5L192.5 235.5ZM207.5 224.5L205.5 222.5L202.5 222.5L198.5 224.5L198.5 228.5L204.5 228.5L207.5 226.5ZM487.5 212.5L482.5 216.5L480.5 221.5L480.5 226.5L484.5 234.5L486.5 235.5L490.5 235.5L490.5 213.5L489.5 212.5ZM447.5 120.5L446.5 121.5L446.5 124.5L447.5 125.5L451.5 125.5L452.5 124.5L452.5 121.5L451.5 120.5ZM242.5 117.5L242.5 120.5L245.5 120.5L246.5 119.5L245.5 117.5ZM394.5 109.5L391.5 113.5L391.5 118.5L392.5 120.5L395.5 123.5L397.5 123.5L398.5 124.5L403.5 123.5L407.5 118.5L407.5 112.5L403.5 108.5L396.5 108.5ZM448.5 65.5L444.5 66.5L441.5 68.5L435.5 74.5L430.5 82.5L430.5 84.5L429.5 85.5L430.5 87.5L436.5 85.5L444.5 78.5L449.5 70.5L449.5 66.5ZM279.5 38.5L273.5 41.5L269.5 45.5L266.5 51.5L265.5 63.5L264.5 64.5L264.5 69.5L263.5 70.5L263.5 84.5L268.5 95.5L274.5 101.5L279.5 103.5L286.5 103.5L290.5 101.5L293.5 98.5L296.5 92.5L297.5 87.5L300.5 81.5L300.5 77.5L301.5 76.5L301.5 66.5L300.5 65.5L299.5 56.5L294.5 45.5L287.5 39.5L285.5 39.5L284.5 38.5ZM353.5 35.5L347.5 35.5L345.5 36.5L341.5 40.5L339.5 44.5L338.5 53.5L339.5 54.5L339.5 58.5L341.5 62.5L342.5 69.5L336.5 74.5L337.5 76.5L339.5 76.5L343.5 71.5L348.5 69.5L351.5 69.5L355.5 67.5L360.5 61.5L360.5 59.5L362.5 55.5L362.5 46.5L358.5 38.5Z"/>
<path fill="#4dafc4" fill-rule="evenodd" d="M292.5 334.5L288.5 339.5L288.5 343.5L291.5 347.5L296.5 347.5L299.5 344.5L299.5 338.5L297.5 335.5ZM270.5 274.5L267.5 277.5L265.5 281.5L265.5 291.5L267.5 296.5L269.5 299.5L273.5 302.5L282.5 304.5L284.5 306.5L288.5 316.5L292.5 320.5L296.5 320.5L298.5 319.5L301.5 314.5L300.5 308.5L296.5 304.5L294.5 304.5L293.5 303.5L288.5 303.5L285.5 301.5L283.5 296.5L282.5 287.5L279.5 279.5L276.5 275.5L274.5 274.5ZM490.5 265.5L489.5 266.5L487.5 266.5L485.5 268.5L482.5 276.5L483.5 285.5L486.5 290.5L488.5 291.5L490.5 291.5ZM178.5 236.5L178.5 279.5L183.5 279.5L191.5 272.5L193.5 268.5L193.5 266.5L194.5 265.5L194.5 249.5L193.5 248.5L193.5 243.5L192.5 242.5L192.5 240.5L189.5 237.5L187.5 237.5L186.5 236.5ZM490.5 214.5L486.5 214.5L484.5 215.5L481.5 221.5L481.5 226.5L483.5 231.5L485.5 233.5L487.5 233.5L488.5 234.5L490.5 233.5ZM396.5 109.5L394.5 110.5L392.5 113.5L392.5 118.5L395.5 122.5L400.5 123.5L405.5 120.5L406.5 118.5L406.5 113.5L403.5 109.5ZM446.5 69.5L443.5 69.5L437.5 74.5L433.5 80.5L433.5 83.5L435.5 83.5L441.5 79.5L441.5 78.5L445.5 74.5ZM279.5 39.5L273.5 42.5L269.5 46.5L267.5 50.5L267.5 52.5L266.5 53.5L266.5 58.5L265.5 59.5L264.5 71.5L263.5 72.5L263.5 81.5L264.5 82.5L265.5 88.5L268.5 94.5L274.5 100.5L278.5 102.5L286.5 102.5L290.5 100.5L293.5 97.5L296.5 91.5L296.5 89.5L300.5 79.5L300.5 63.5L299.5 62.5L299.5 58.5L298.5 57.5L297.5 52.5L294.5 46.5L289.5 41.5L285.5 39.5ZM353.5 38.5L347.5 38.5L343.5 41.5L340.5 48.5L340.5 55.5L341.5 56.5L342.5 61.5L344.5 64.5L347.5 66.5L353.5 65.5L358.5 60.5L359.5 55.5L360.5 54.5L359.5 44.5L357.5 41.5Z"/>
<path fill="#3ca0c4" fill-rule="evenodd" d="M295.5 340.5L293.5 340.5L292.5 342.5L294.5 343.5L295.5 342.5ZM270.5 277.5L268.5 279.5L267.5 284.5L266.5 285.5L267.5 292.5L272.5 298.5L276.5 299.5L278.5 298.5L280.5 295.5L280.5 288.5L279.5 287.5L279.5 284.5L276.5 278.5L274.5 277.5ZM487.5 268.5L484.5 272.5L483.5 281.5L484.5 282.5L485.5 287.5L487.5 289.5L490.5 290.5L490.5 267.5ZM186.5 238.5L178.5 238.5L178.5 278.5L182.5 278.5L186.5 276.5L191.5 270.5L191.5 268.5L193.5 264.5L193.5 252.5L192.5 251.5L191.5 242.5ZM487.5 215.5L484.5 217.5L482.5 221.5L482.5 226.5L483.5 227.5L483.5 229.5L486.5 232.5L489.5 232.5L490.5 231.5L490.5 216.5L489.5 215.5ZM398.5 109.5L393.5 113.5L393.5 118.5L395.5 121.5L400.5 122.5L405.5 118.5L405.5 113.5L404.5 111.5L400.5 109.5ZM353.5 41.5L347.5 41.5L343.5 45.5L343.5 47.5L342.5 48.5L342.5 55.5L343.5 56.5L343.5 58.5L345.5 61.5L349.5 63.5L355.5 60.5L358.5 53.5L357.5 46.5ZM278.5 40.5L274.5 42.5L270.5 46.5L267.5 51.5L266.5 60.5L265.5 61.5L265.5 67.5L264.5 68.5L264.5 83.5L265.5 84.5L266.5 89.5L269.5 94.5L274.5 99.5L278.5 101.5L283.5 102.5L284.5 101.5L289.5 100.5L293.5 96.5L295.5 92.5L295.5 90.5L297.5 87.5L297.5 85.5L299.5 81.5L299.5 78.5L300.5 77.5L300.5 65.5L299.5 64.5L299.5 60.5L298.5 59.5L297.5 53.5L293.5 46.5L289.5 42.5L285.5 40.5Z"/>
<path fill="#3092c2" fill-rule="evenodd" d="M271.5 280.5L269.5 282.5L268.5 288.5L270.5 293.5L274.5 295.5L277.5 293.5L277.5 285.5L276.5 284.5L276.5 282.5L274.5 280.5ZM488.5 269.5L486.5 271.5L484.5 276.5L484.5 282.5L486.5 286.5L488.5 288.5L490.5 288.5L490.5 269.5ZM184.5 239.5L178.5 239.5L178.5 277.5L184.5 276.5L189.5 271.5L192.5 264.5L192.5 253.5L191.5 252.5L191.5 247.5L188.5 241.5ZM486.5 217.5L484.5 219.5L483.5 226.5L486.5 230.5L490.5 230.5L490.5 218.5L489.5 217.5ZM398.5 110.5L394.5 113.5L393.5 116.5L395.5 120.5L397.5 121.5L401.5 121.5L404.5 118.5L404.5 113.5L402.5 111.5ZM348.5 44.5L345.5 47.5L344.5 53.5L345.5 54.5L345.5 56.5L348.5 59.5L351.5 59.5L353.5 58.5L355.5 54.5L355.5 48.5L353.5 45.5ZM278.5 41.5L274.5 43.5L270.5 47.5L267.5 53.5L266.5 62.5L265.5 63.5L265.5 69.5L264.5 70.5L264.5 81.5L265.5 82.5L265.5 85.5L269.5 93.5L275.5 99.5L280.5 101.5L284.5 101.5L289.5 99.5L293.5 95.5L299.5 80.5L300.5 69.5L299.5 68.5L298.5 58.5L297.5 57.5L296.5 52.5L293.5 47.5L288.5 42.5L286.5 42.5L285.5 41.5Z"/>
<path fill="#2882bc" fill-rule="evenodd" d="M272.5 285.5L272.5 289.5L273.5 289.5L274.5 287.5L273.5 285.5ZM488.5 271.5L486.5 273.5L486.5 275.5L485.5 276.5L485.5 281.5L486.5 282.5L486.5 284.5L490.5 287.5L490.5 271.5ZM182.5 240.5L178.5 240.5L178.5 275.5L179.5 276.5L183.5 275.5L187.5 272.5L190.5 267.5L190.5 264.5L191.5 263.5L191.5 253.5L190.5 252.5L190.5 248.5L188.5 244.5L185.5 241.5L183.5 241.5ZM487.5 218.5L484.5 222.5L484.5 225.5L487.5 229.5L489.5 229.5L490.5 228.5L490.5 219.5ZM397.5 111.5L395.5 113.5L394.5 117.5L397.5 120.5L401.5 120.5L403.5 118.5L403.5 113.5L401.5 111.5ZM349.5 49.5L348.5 50.5L348.5 53.5L350.5 54.5L351.5 53.5L351.5 50.5ZM282.5 41.5L281.5 42.5L277.5 42.5L270.5 48.5L267.5 54.5L266.5 64.5L265.5 65.5L265.5 72.5L264.5 73.5L265.5 83.5L269.5 92.5L275.5 98.5L279.5 100.5L285.5 100.5L286.5 99.5L288.5 99.5L293.5 94.5L299.5 78.5L299.5 64.5L298.5 63.5L298.5 59.5L297.5 58.5L296.5 53.5L293.5 48.5L288.5 43.5L283.5 42.5Z"/>
<path fill="#2674b4" fill-rule="evenodd" d="M490.5 272.5L487.5 274.5L487.5 276.5L486.5 277.5L486.5 281.5L489.5 285.5L490.5 285.5ZM180.5 241.5L178.5 242.5L178.5 274.5L183.5 274.5L189.5 267.5L189.5 264.5L190.5 263.5L190.5 253.5L189.5 252.5L188.5 246.5L184.5 242.5L181.5 242.5ZM488.5 220.5L486.5 221.5L486.5 226.5L487.5 227.5L490.5 225.5L490.5 222.5ZM397.5 112.5L395.5 115.5L395.5 117.5L397.5 119.5L402.5 118.5L402.5 113.5ZM280.5 42.5L275.5 44.5L270.5 49.5L268.5 53.5L267.5 60.5L266.5 61.5L266.5 66.5L265.5 67.5L265.5 81.5L269.5 91.5L273.5 96.5L278.5 99.5L286.5 99.5L288.5 98.5L294.5 91.5L294.5 89.5L296.5 86.5L296.5 84.5L298.5 80.5L299.5 68.5L298.5 67.5L298.5 61.5L293.5 49.5L288.5 44.5L283.5 42.5Z"/>
<path fill="#2466ac" fill-rule="evenodd" d="M489.5 275.5L487.5 279.5L488.5 280.5L488.5 282.5L490.5 283.5L490.5 275.5ZM178.5 243.5L178.5 273.5L182.5 273.5L186.5 270.5L189.5 264.5L189.5 253.5L188.5 252.5L187.5 247.5L183.5 243.5ZM398.5 113.5L396.5 116.5L398.5 118.5L400.5 118.5L401.5 117.5L401.5 114.5L400.5 113.5ZM279.5 43.5L275.5 45.5L270.5 50.5L268.5 54.5L267.5 62.5L266.5 63.5L266.5 69.5L265.5 70.5L265.5 78.5L266.5 79.5L267.5 86.5L271.5 93.5L276.5 97.5L283.5 99.5L288.5 97.5L294.5 90.5L294.5 88.5L296.5 85.5L297.5 79.5L298.5 78.5L298.5 64.5L297.5 63.5L296.5 56.5L293.5 50.5L287.5 44.5L285.5 44.5L284.5 43.5Z"/>
<path fill="#2458a4" fill-rule="evenodd" d="M178.5 244.5L178.5 272.5L182.5 272.5L186.5 268.5L188.5 264.5L188.5 253.5L184.5 245.5L182.5 244.5ZM398.5 115.5L398.5 116.5L400.5 116.5L400.5 115.5ZM278.5 44.5L271.5 50.5L268.5 56.5L267.5 64.5L266.5 65.5L266.5 81.5L267.5 82.5L268.5 87.5L274.5 95.5L280.5 98.5L284.5 98.5L290.5 95.5L296.5 84.5L297.5 77.5L298.5 76.5L298.5 67.5L297.5 66.5L297.5 61.5L296.5 60.5L295.5 55.5L291.5 48.5L285.5 44.5Z"/>
<g shape-rendering="crispEdges"><g fill="#fff"><polygon points="177.5,15.6 205.2,15.6 207.4,17.8 211,21.5 214.7,25.9 214.7,38.3 208.8,38.3 208.8,33.2 210.3,29.5 207.4,26.6 203.7,22.9 177.5,22.9"/><rect x="201" y="50" width="6" height="4"/><rect x="216" y="73" width="15" height="16"/><rect x="300" y="16" width="22" height="12"/><rect x="307" y="47" width="8" height="10"/><rect x="301" y="72" width="5" height="6"/><rect x="316" y="72" width="6" height="22"/><polygon points="366,80 372,80 382,95 382,103 366,103"/><rect x="407" y="16" width="7" height="7"/><rect x="390" y="63" width="7" height="8"/><rect x="414" y="78" width="8" height="8"/><rect x="456" y="78" width="8" height="8"/><rect x="440" y="48" width="6" height="6"/><rect x="178" y="110" width="4" height="25"/><rect x="178" y="204" width="4" height="7"/><rect x="178" y="189" width="4" height="6"/><rect x="201" y="197" width="6" height="6"/><rect x="225" y="104" width="6" height="12"/><rect x="258" y="124" width="8" height="10"/><rect x="192" y="158" width="8" height="22"/><rect x="234" y="181" width="7" height="7"/><rect x="283" y="102" width="7" height="8"/><rect x="333" y="119" width="6" height="7"/><rect x="349" y="134" width="7" height="6"/><rect x="365" y="127" width="7" height="7"/><rect x="366" y="99" width="7" height="7"/><rect x="304" y="202" width="7" height="8"/><rect x="415" y="118" width="15" height="14"/><rect x="412" y="133" width="6" height="8"/><rect x="381" y="176" width="9" height="12"/><rect x="376" y="142" width="5" height="6"/><rect x="466" y="172" width="7" height="6"/><rect x="484" y="128" width="6" height="7"/><rect x="402" y="142" width="7" height="6"/><rect x="449" y="188" width="7" height="5"/><rect x="439" y="144" width="6" height="4"/><rect x="472" y="134" width="7" height="7"/><rect x="192" y="235" width="13" height="20"/><rect x="218" y="213" width="5" height="6"/><rect x="209" y="237" width="6" height="6"/><rect x="225" y="250" width="20" height="12"/><rect x="268" y="221" width="7" height="6"/><rect x="265" y="236" width="20" height="6"/><rect x="243" y="237" width="6" height="6"/><rect x="218" y="296" width="22" height="14"/><rect x="200" y="292" width="8" height="6"/><polygon points="299.5,202 310,202 331,225 331,229 322,234 299.5,234"/><rect x="267" y="237" width="31" height="7"/><rect x="292" y="237" width="7" height="28"/><polygon points="305,263 313,263 337,290 337,295 331,295 305,268"/><rect x="365" y="203" width="10" height="12"/><polygon points="383,213 421,213 421,226 403,226 403,219 383,219"/><rect x="463" y="235" width="10" height="15"/><rect x="457" y="268" width="7" height="15"/><rect x="178" y="315" width="12" height="30"/><rect x="217" y="338" width="6" height="6"/><rect x="259" y="346" width="6" height="6"/><rect x="259" y="377" width="6" height="6"/><rect x="178" y="370" width="6" height="20"/><rect x="333" y="315" width="7" height="28"/><rect x="325" y="345" width="8" height="15"/><rect x="340" y="362" width="8" height="13"/><rect x="268" y="338" width="7" height="7"/><rect x="275" y="385" width="15" height="5"/><rect x="299" y="385" width="6" height="5"/><rect x="330" y="290" width="6" height="4"/><rect x="456" y="299" width="6" height="6"/><rect x="440" y="308" width="15" height="6"/><rect x="423" y="323" width="6" height="7"/><rect x="440" y="346" width="6" height="7"/><rect x="465" y="355" width="10" height="17"/><rect x="382" y="361" width="7" height="7"/><rect x="398" y="369" width="6" height="6"/><rect x="478" y="372" width="10" height="13"/><rect x="382" y="385" width="7" height="5"/><rect x="261" y="72" width="5" height="5"/><rect x="253" y="88" width="5" height="5"/><rect x="299" y="72" width="6" height="6"/><rect x="284" y="103" width="6" height="6"/></g></g>
<g fill="none" stroke="#0b2553" stroke-width="1.35" stroke-linejoin="round"><polyline points="177.6,102.7 184.2,103.9 190.8,105.2 195.1,103.6 200.4,103.3 201.7,104.2 205.6,104.6 208.0,103.9 210.3,100.2 210.9,98.3 212.2,95.8 213.6,93.6 213.2,89.8 214.6,87.3 210.6,87.0 207.3,88.6 202.3,88.9 196.1,86.7 191.1,87.0 185.5,86.1 181.9,82.0 182.5,78.2 181.6,76.7 183.2,75.1 185.8,73.8 190.8,73.5"/><polyline points="190.8,72.9 197.4,73.2 205.6,70.4 211.3,70.4 216.9,72.6 222.1,73.8 228.8,73.5 232.0,72.0 232.4,68.8 227.1,66.0 220.5,62.6 218.8,61.0 215.9,60.1 212.2,60.4 205.6,62.6 202.3,59.7 205.6,57.9 199.0,56.0 194.8,58.5 192.8,60.1 189.8,63.5 187.5,67.3 187.2,70.4 190.5,72.6 190.8,72.9"/><polyline points="210.6,60.1 213.9,59.4 218.8,56.3 224.5,54.1 221.5,54.4 217.2,55.4 211.6,56.9 210.6,60.1"/><polyline points="177.6,73.8 180.9,74.2"/><polyline points="252.2,59.1 251.8,64.1 250.9,66.3 255.1,71.0 257.5,75.1 258.4,76.0 256.5,80.4 256.5,81.7 257.5,84.5 261.1,85.4 265.0,86.7 273.0,86.4 273.0,84.8 271.0,79.5 270.0,76.7 269.3,73.5 272.6,72.0 270.7,70.1 268.4,71.0 264.4,66.6 262.7,62.9 264.4,60.1 270.0,60.1 270.3,55.4 265.0,54.7 259.4,56.0 255.8,55.4 252.2,59.1"/><polyline points="201.7,104.2 202.3,108.3 203.0,111.1 206.0,115.5 207.3,118.7 210.6,124.3 212.6,127.1 216.9,133.1 218.2,137.1 218.5,142.8 222.1,145.6 224.5,152.5 227.1,155.0 231.1,158.8 234.7,161.9 238.0,164.7 241.9,169.4 246.9,168.5 253.5,166.9 260.1,166.0 264.4,165.0 263.4,169.4 262.7,173.8 259.4,180.1 255.1,186.3 250.2,192.6 245.2,195.7 240.3,198.9 235.3,203.6 232.0,207.6 227.8,210.8 225.8,216.1 224.1,219.2 223.1,222.4 225.1,225.5 225.4,230.2 228.4,234.9 228.8,239.6 229.1,247.4 227.8,252.1 217.2,257.8 211.6,264.7 212.2,270.9 212.2,277.2 204.0,281.9 202.7,285.0 203.0,291.3 199.0,294.4 194.8,299.1 189.2,304.1 184.2,307.3 179.6,308.2 177.6,308.5"/><polyline points="208.0,103.9 210.3,109.6 209.9,114.3 212.6,116.5 215.5,120.8 218.8,125.9 223.1,133.1 224.5,135.3 227.1,140.0 230.4,144.7 234.0,150.0 236.3,155.0 237.7,159.7 238.6,162.2 241.0,162.5 244.3,161.6 248.6,160.0 253.5,158.1 258.4,155.9 265.0,154.1 267.4,152.8 270.7,149.7 276.6,147.2 281.2,145.6 282.5,143.1 285.8,141.8 288.1,138.1 292.4,131.5 289.8,129.3 286.5,127.4 281.2,124.0 281.2,119.3 279.9,121.8 277.6,123.0 273.3,126.2 266.7,126.8 265.4,124.9 265.0,120.8 263.4,120.2 262.7,123.0 261.1,120.5 258.8,117.7 255.1,113.6 253.5,109.6 256.1,108.0 260.4,107.7 262.7,111.4 265.0,114.9 271.6,118.0 276.6,118.7 280.9,117.1 284.2,121.2 289.8,122.4 298.4,123.0 304.6,122.7 311.2,122.7 315.2,122.4 317.5,124.3 319.5,127.4 322.1,129.9 325.1,130.9 327.4,130.2 322.8,132.1 326.1,136.2 329.4,136.8 334.7,135.3 335.3,139.3 335.3,142.5 336.0,147.2 337.3,151.9 339.3,155.6 341.3,161.3 343.3,165.0 345.6,169.1 346.9,172.2 349.2,176.0 351.2,176.6 353.2,174.1 355.8,172.9 356.8,169.7 358.8,169.7 358.8,164.4 360.1,159.7 359.4,154.4 362.4,152.5 366.7,150.0 370.6,146.5 374.9,141.8 380.5,138.7 382.2,134.6 387.1,133.7 390.4,133.1 393.8,131.2 398.0,132.1 399.7,136.2 402.0,140.0 406.0,144.0 406.9,151.2 409.9,152.5 413.5,149.7 417.2,150.3 417.8,155.6 420.1,161.3 420.5,166.0 419.5,171.3 419.5,176.9 421.8,179.1 425.8,182.3 426.4,186.3 429.4,192.6 436.3,197.9 439.0,197.3 436.6,191.0 436.3,187.9 432.7,182.6 428.4,180.4 426.1,178.5 424.8,172.9 422.5,169.1 423.4,163.8 425.1,160.0 428.1,160.0 428.4,162.5 433.4,164.4 435.0,167.5 439.9,169.4 441.6,173.8 440.9,175.1 446.5,172.2 448.2,169.4 454.5,166.6 455.8,161.9 454.8,155.0 451.5,150.6 446.9,147.2 443.9,143.1 446.5,138.7 449.9,134.6 453.5,134.3 457.4,134.9 459.4,138.4 459.8,135.6 463.0,134.3 469.6,132.4 472.3,131.5 479.5,129.9 482.9,127.4 487.1,124.3 489.8,121.2 491.1,119.0"/><polyline points="201.7,93.0 204.0,93.6 207.3,92.6 209.3,90.1 205.6,91.4 201.7,92.0 201.7,93.0"/><polyline points="177.6,91.4 181.9,91.7 179.2,92.3 177.6,92.3"/><polyline points="358.8,171.3 360.1,172.2 363.1,175.4 365.4,179.1 364.4,182.6 361.1,183.5 359.1,181.6 358.4,176.9 358.8,171.3"/><polyline points="453.5,141.8 456.4,145.0 459.8,143.7 461.4,140.0 458.8,139.0 455.5,139.6 453.5,141.8"/><polyline points="409.6,184.5 416.9,185.7 420.8,190.1 426.4,195.1 430.0,197.0 435.0,199.5 437.6,205.1 439.9,208.3 444.6,212.0 444.2,220.2 439.9,220.5 432.7,214.5 428.4,208.3 425.1,203.6 421.8,198.9 420.1,195.7 415.2,191.0 409.9,186.3 409.6,184.5"/><polyline points="442.3,223.3 446.5,220.8 452.5,221.7 459.8,222.7 466.4,223.6 472.9,226.1 472.6,229.3 464.7,228.0 458.1,227.4 451.5,226.4 444.9,225.2 442.3,223.3"/><polyline points="472.9,227.4 476.9,228.3 475.3,229.6 472.9,228.3 472.9,227.4"/><polyline points="477.9,228.0 480.2,228.0 479.9,229.9 477.9,229.6 477.9,228.0"/><polyline points="480.5,228.6 484.5,227.7 488.5,228.6 486.1,230.2 481.2,230.2 480.5,228.6"/><polyline points="490.4,228.3 492.8,228.0 492.8,229.9 490.4,229.6 490.4,228.3"/><polyline points="454.8,197.3 456.8,195.7 461.4,196.4 468.0,192.0 472.9,187.6 476.2,185.4 479.5,181.6 482.2,180.4 484.5,183.2 488.5,185.4 485.5,187.9 483.8,191.0 484.5,195.7 487.1,198.9 483.2,200.4 482.5,203.6 479.5,206.7 479.5,212.0 477.9,214.5 472.9,213.0 468.0,212.0 464.0,211.4 458.8,211.1 458.1,206.7 455.5,203.6 454.8,197.3"/><polyline points="489.1,219.2 489.8,213.0 487.1,210.5 489.4,203.6 491.1,200.4"/><polyline points="482.2,175.4 485.8,171.9 489.4,167.5"/><polyline points="257.8,239.6 260.8,247.4 261.8,250.6 259.4,255.3 258.1,258.4 256.1,264.7 253.2,272.5 250.5,280.0 245.2,281.9 240.3,280.3 239.0,275.6 238.0,270.9 241.6,264.7 240.3,258.4 241.3,253.7 246.9,251.5 251.8,248.1 253.5,245.2 257.8,239.6"/><polyline points="491.1,264.0 487.1,265.6 481.2,266.5 477.9,267.8 473.3,270.3 472.0,272.5 470.3,275.6 469.3,278.8 469.6,281.9 472.0,284.4 473.3,291.3 474.6,296.0 476.9,301.0 476.9,306.3 474.6,307.3 474.6,309.5 479.5,311.7 484.5,311.7 489.4,310.1 491.1,308.2"/><polyline points="177.6,15.3 184.2,15.7 188.2,15.6 190.8,14.3 194.1,14.2"/><polyline points="322.8,355.5 326.8,354.9 327.8,356.8 324.4,357.7 322.8,355.5"/></g>
</g>
<path d="M276.6 29.7L277.3 33.7M276.8 32.4L277.3 33.7L277.4 32.3M194.1 76.7L196.3 63.9M196.5 68.3L196.3 63.9L194.6 67.9M260.1 76.7L239.1 75.2M246.1 74.1L239.1 75.2L245.9 77.3M260.1 92.3L246.1 101.5M250.0 97.4L246.1 101.5L251.4 99.6M326.1 108.0L324.1 114.6M324.3 112.3L324.1 114.6L325.3 112.6M425.1 108.0L424.1 111.0M424.2 109.9L424.1 111.0L424.7 110.1M474.6 108.0l0.6 0.6M260.1 123.7L255.6 123.2M257.1 123.0L255.6 123.2L257.0 123.7M392.1 123.7L380.3 134.2M383.4 129.8L380.3 134.2L385.0 131.6M425.1 123.7l0.6 0.6M194.1 139.3L198.3 146.3M196.4 144.3L198.3 146.3L197.4 143.7M210.6 139.3L213.2 141.3M212.2 140.9L213.2 141.3L212.5 140.5M260.1 139.3L259.6 134.8M260.1 136.3L259.6 134.8L259.4 136.4M276.6 139.3L279.6 132.8M279.1 135.2L279.6 132.8L278.1 134.8M227.1 155.0L243.1 151.7M238.1 154.0L243.1 151.7L237.6 151.6M326.1 155.0L323.5 148.0M324.9 150.1L323.5 148.0L323.8 150.5M375.6 155.0L384.6 151.7M381.9 153.5L384.6 151.7L381.4 152.1M375.6 170.7L379.6 167.7M378.5 169.0L379.6 167.7L378.1 168.4M425.1 170.7L430.0 172.5M428.2 172.2L430.0 172.5L428.5 171.5M474.6 170.7L482.6 164.7M480.4 167.3L482.6 164.7L479.5 166.0M408.6 186.3L408.2 193.5M407.8 191.1L408.2 193.5L408.9 191.2M293.1 202.0L284.1 198.7M287.3 199.1L284.1 198.7L286.8 200.5M326.1 202.0L314.4 192.1M319.0 194.5L314.4 192.1L317.5 196.3M458.1 202.0L473.3 202.7M468.2 203.6L473.3 202.7L468.3 201.3M293.1 217.7L275.6 215.9M281.5 215.1L275.6 215.9L281.2 217.8M309.6 217.7L293.4 217.2M298.8 216.1L293.4 217.2L298.7 218.6M375.6 217.7L362.2 218.5M366.6 217.2L362.2 218.5L366.7 219.2M210.6 233.3L221.2 236.8M217.4 236.5L221.2 236.8L218.0 234.9M342.6 233.3L336.6 227.0M339.1 228.7L336.6 227.0L338.1 229.6M359.1 233.3L356.3 225.7M357.8 228.0L356.3 225.7L356.6 228.5M408.6 233.3L412.1 230.9M411.1 232.0L412.1 230.9L410.8 231.5M210.6 249.0L208.6 246.5M209.4 247.2L208.6 246.5L209.1 247.5M260.1 249.0L265.9 250.7M263.9 250.6L265.9 250.7L264.1 249.7M342.6 249.0L335.9 236.6M339.1 240.2L335.9 236.6L337.2 241.2M458.1 249.0L466.8 245.8M464.2 247.5L466.8 245.8L463.7 246.2M194.1 264.7L189.8 275.2M190.4 271.4L189.8 275.2L192.0 272.0M276.6 264.7L270.4 271.5M271.9 268.8L270.4 271.5L273.0 269.7M342.6 264.7L330.0 257.1M334.7 258.6L330.0 257.1L333.6 260.5M474.6 264.7L467.5 270.9M469.4 268.3L467.5 270.9L470.3 269.4M210.6 280.3L220.6 281.3M217.2 281.8L220.6 281.3L217.4 280.2M326.1 280.3L311.8 278.1M316.7 277.8L311.8 278.1L316.4 280.0M342.6 280.3L330.0 276.8M334.4 277.0L330.0 276.8L333.9 279.0M194.1 296.0L189.8 295.2M191.3 295.1L189.8 295.2L191.2 295.8M293.1 296.0L285.5 305.7M287.3 301.9L285.5 305.7L288.7 303.1M425.1 296.0L420.8 291.3M422.6 292.5L420.8 291.3L421.9 293.2M441.6 296.0L433.3 289.3M436.5 290.9L433.3 289.3L435.5 292.1M375.6 311.7L372.1 303.7M373.9 306.0L372.1 303.7L372.6 306.6M408.6 311.7L412.1 307.0M411.3 308.8L412.1 307.0L410.6 308.3M441.6 311.7l0.6 0.6M458.1 311.7L454.6 313.7M455.6 312.7L454.6 313.7L455.9 313.3M210.6 327.3L190.4 335.6M196.4 331.4L190.4 335.6L197.7 334.4M392.1 327.3L394.5 320.5M394.2 323.0L394.5 320.5L393.2 322.6M408.6 327.3L409.5 321.1M409.7 323.3L409.5 321.1L408.7 323.1M474.6 327.3L479.3 332.9M477.3 331.4L479.3 332.9L478.2 330.7M326.1 343.0l0.6 0.6M194.1 358.7L199.0 350.2M198.0 353.4L199.0 350.2L196.7 352.6M309.6 358.7L321.7 363.3M317.4 362.7L321.7 363.3L318.1 360.8M326.1 358.7L340.1 358.7M335.5 359.7L340.1 358.7L335.5 357.6M392.1 358.7L394.5 354.1M394.1 355.8L394.5 354.1L393.4 355.4M408.6 358.7L408.9 354.1M409.2 355.6L408.9 354.1L408.5 355.6M260.1 374.3L263.2 376.9M262.0 376.3L263.2 376.9L262.4 375.8M326.1 374.3L336.7 371.0M333.5 372.9L336.7 371.0L333.0 371.3M342.6 374.3L354.3 375.0M350.4 375.7L354.3 375.0L350.5 373.9" stroke="#9a9a9a" stroke-width="2.1" fill="none" stroke-linecap="round" stroke-linejoin="round"/><path d="M196.3 63.9L196.5 68.3L194.6 67.9ZM239.1 75.2L246.1 74.1L245.9 77.3ZM246.1 101.5L250.0 97.4L251.4 99.6ZM380.3 134.2L383.4 129.8L385.0 131.6ZM243.1 151.7L238.1 154.0L237.6 151.6ZM384.6 151.7L381.9 153.5L381.4 152.1ZM482.6 164.7L480.4 167.3L479.5 166.0ZM284.1 198.7L287.3 199.1L286.8 200.5ZM314.4 192.1L319.0 194.5L317.5 196.3ZM473.3 202.7L468.2 203.6L468.3 201.3ZM275.6 215.9L281.5 215.1L281.2 217.8ZM293.4 217.2L298.8 216.1L298.7 218.6ZM362.2 218.5L366.6 217.2L366.7 219.2ZM221.2 236.8L217.4 236.5L218.0 234.9ZM335.9 236.6L339.1 240.2L337.2 241.2ZM466.8 245.8L464.2 247.5L463.7 246.2ZM189.8 275.2L190.4 271.4L192.0 272.0ZM270.4 271.5L271.9 268.8L273.0 269.7ZM330.0 257.1L334.7 258.6L333.6 260.5ZM467.5 270.9L469.4 268.3L470.3 269.4ZM220.6 281.3L217.2 281.8L217.4 280.2ZM311.8 278.1L316.7 277.8L316.4 280.0ZM330.0 276.8L334.4 277.0L333.9 279.0ZM285.5 305.7L287.3 301.9L288.7 303.1ZM433.3 289.3L436.5 290.9L435.5 292.1ZM190.4 335.6L196.4 331.4L197.7 334.4ZM199.0 350.2L198.0 353.4L196.7 352.6ZM321.7 363.3L317.4 362.7L318.1 360.8ZM340.1 358.7L335.5 359.7L335.5 357.6ZM336.7 371.0L333.5 372.9L333.0 371.3ZM354.3 375.0L350.4 375.7L350.5 373.9Z" fill="#9a9a9a"/><path d="M194.1 29.7L185.8 24.5M188.9 25.6L185.8 24.5L188.1 26.8M210.6 29.7L203.1 28.5M205.7 28.3L203.1 28.5L205.5 29.4M227.1 29.7L218.3 32.9M221.0 31.1L218.3 32.9L221.4 32.5M243.6 29.7L237.0 34.3M238.8 32.2L237.0 34.3L239.5 33.2M260.1 29.7L258.6 35.2M258.7 33.2L258.6 35.2L259.5 33.5M293.1 29.7L293.6 27.7M293.6 28.4L293.6 27.7L293.3 28.3M309.6 29.7L313.6 25.7M312.6 27.3L313.6 25.7L312.0 26.7M326.1 29.7L332.0 33.6M329.8 32.7L332.0 33.6L330.3 31.8M342.6 29.7L345.2 36.3M343.8 34.3L345.2 36.3L344.8 33.9M359.1 29.7L355.1 32.3M356.2 31.1L355.1 32.3L356.6 31.7M375.6 29.7L371.0 32.3M372.3 31.1L371.0 32.3L372.7 31.8M392.1 29.7L389.2 35.0M389.8 33.0L389.2 35.0L390.6 33.4M408.6 29.7L407.1 28.7M407.7 28.9L407.1 28.7L407.5 29.1M425.1 29.7L425.7 19.7M426.3 23.0L425.7 19.7L424.7 22.9M194.1 45.3L187.8 37.3M190.5 39.5L187.8 37.3L189.3 40.5M210.6 45.3L202.6 47.8M205.1 46.4L202.6 47.8L205.4 47.6M227.1 45.3L221.1 47.3M222.9 46.2L221.1 47.3L223.2 47.1M260.1 45.3L285.7 40.7M277.6 44.2L285.7 40.7L276.9 40.3M276.6 45.3L300.9 62.3M291.6 58.6L300.9 62.3L294.2 54.9M293.1 45.3L302.3 57.8M298.3 54.4L302.3 57.8L300.2 53.0M309.6 45.3L307.6 41.3M308.6 42.5L307.6 41.3L308.0 42.8M326.1 45.3L324.1 47.3M324.6 46.5L324.1 47.3L324.9 46.8M342.6 45.3L343.3 57.8M342.1 53.8L343.3 57.8L344.0 53.7M359.1 45.3L358.8 53.8M358.3 51.0L358.8 53.8L359.5 51.1M375.6 45.3L374.9 49.9M374.8 48.4L374.9 49.9L375.5 48.5M392.1 45.3L394.1 47.9M393.2 47.2L394.1 47.9L393.6 46.9M408.6 45.3L411.9 37.4M411.4 40.3L411.9 37.4L410.2 39.8M425.1 45.3L428.1 32.3M428.1 36.9L428.1 32.3L426.1 36.4M194.1 61.0L195.6 56.0M195.5 57.8L195.6 56.0L194.7 57.5M210.6 61.0L216.0 65.9M213.8 64.7L216.0 65.9L214.6 63.9M227.1 61.0L235.6 55.5M233.2 58.0L235.6 55.5L232.4 56.7M243.6 61.0L249.9 29.0M250.2 40.0L249.9 29.0L245.4 39.1M260.1 61.0L260.1 46.0M261.2 51.0L260.1 46.0L259.0 51.0M276.6 61.0L274.6 92.0M272.9 81.6L274.6 92.0L277.6 81.9M293.1 61.0L294.6 91.0M291.8 81.2L294.6 91.0L296.4 81.0M309.6 61.0L314.1 60.5M312.7 61.0L314.1 60.5L312.6 60.3M326.1 61.0L330.1 60.5M328.8 61.0L330.1 60.5L328.7 60.4M342.6 61.0L346.5 72.2M344.4 68.8L346.5 72.2L346.1 68.2M359.1 61.0L362.4 70.2M360.6 67.4L362.4 70.2L362.0 66.9M375.6 61.0L376.9 68.9M375.9 66.4L376.9 68.9L377.1 66.2M392.1 61.0L393.6 61.5M393.1 61.4L393.6 61.5L393.1 61.2M408.6 61.0L408.6 48.0M409.6 52.3L408.6 48.0L407.6 52.3M425.1 61.0L417.9 51.0M421.0 53.8L417.9 51.0L419.5 54.8M210.6 76.7L215.2 74.1M213.9 75.3L215.2 74.1L213.5 74.6M227.1 76.7L231.1 74.7M229.9 75.6L231.1 74.7L229.6 75.0M243.6 76.7L236.4 59.7M240.1 64.7L236.4 59.7L237.5 65.8M276.6 76.7L256.0 102.3M260.9 92.3L256.0 102.3L264.7 95.4M293.1 76.7L283.9 86.7M286.2 82.7L283.9 86.7L287.7 84.1M309.6 76.7L309.6 70.1M310.1 72.2L309.6 70.1L309.1 72.2M326.1 76.7L330.7 83.9M328.6 81.8L330.7 83.9L329.7 81.1M342.6 76.7L345.9 85.2M344.2 82.6L345.9 85.2L345.5 82.1M359.1 76.7L356.5 79.7M357.1 78.5L356.5 79.7L357.6 78.9M375.6 76.7L374.3 81.3M374.4 79.7L374.3 81.3L375.1 79.8M392.1 76.7L394.1 73.7M393.7 74.8L394.1 73.7L393.2 74.5M408.6 76.7L408.0 68.2M408.8 70.9L408.0 68.2L407.6 71.0M425.1 76.7L420.5 80.0M421.8 78.5L420.5 80.0L422.3 79.2M441.6 76.7L437.6 87.7M438.1 83.7L437.6 87.7L439.8 84.3M458.1 76.7L452.2 79.3M453.9 78.0L452.2 79.3L454.3 78.9M474.6 76.7L470.6 72.1M472.3 73.3L470.6 72.1L471.6 73.9M194.1 92.3L193.7 83.9M194.5 86.7L193.7 83.9L193.2 86.7M210.6 92.3L204.8 88.5M207.0 89.3L204.8 88.5L206.4 90.2M227.1 92.3L220.1 91.5M222.5 91.3L220.1 91.5L222.3 92.3M243.6 92.3L231.8 86.5M236.1 87.6L231.8 86.5L235.3 89.3M276.6 92.3L273.7 115.9M272.9 107.9L273.7 115.9L276.4 108.4M309.6 92.3L307.2 84.3M308.6 86.8L307.2 84.3L307.4 87.2M326.1 92.3L334.0 98.2M330.9 96.9L334.0 98.2L331.8 95.7M342.6 92.3L356.3 91.3M351.9 92.7L356.3 91.3L351.7 90.6M359.1 92.3L365.4 88.3M363.6 90.1L365.4 88.3L363.0 89.2M375.6 92.3L379.9 92.6M378.5 92.9L379.9 92.6L378.5 92.2M392.1 92.3L388.6 87.3M390.1 88.7L388.6 87.3L389.4 89.3M408.6 92.3L392.1 90.8M397.7 90.1L392.1 90.8L397.4 92.6M425.1 92.3L412.9 97.8M416.5 95.1L412.9 97.8L417.3 96.9M441.6 92.3L445.1 97.2M443.6 95.9L445.1 97.2L444.3 95.4M458.1 92.3L459.6 92.3M459.1 92.4L459.6 92.3L459.1 92.2M474.6 92.3L470.1 89.3M471.8 90.0L470.1 89.3L471.4 90.7M194.1 108.0L189.1 105.6M190.9 106.0L189.1 105.6L190.6 106.8M210.6 108.0L205.6 100.0M207.9 102.3L205.6 100.0L206.6 103.0M227.1 108.0l0.6 0.6M243.6 108.0L235.1 110.2M237.7 108.8L235.1 110.2L238.1 110.1M260.1 108.0L238.4 104.1M245.9 103.7L238.4 104.1L245.3 107.0M276.6 108.0L266.1 109.5M269.5 108.2L266.1 109.5L269.7 109.8M293.1 108.0L290.1 103.0M291.5 104.4L290.1 103.0L290.7 104.9M309.6 108.0L304.1 105.5M306.1 105.9L304.1 105.5L305.7 106.7M342.6 108.0L338.0 104.5M339.8 105.3L338.0 104.5L339.3 106.0M359.1 108.0L354.5 104.7M356.3 105.4L354.5 104.7L355.8 106.1M392.1 108.0L393.8 117.5M392.5 114.5L393.8 117.5L394.0 114.2M408.6 108.0L406.6 118.0M406.5 114.6L406.6 118.0L408.0 114.9M441.6 108.0L445.8 110.2M444.2 109.8L445.8 110.2L444.6 109.2M458.1 108.0L460.9 113.5M459.6 111.9L460.9 113.5L460.4 111.5M194.1 123.7L190.6 124.2M191.7 123.7L190.6 124.2L191.8 124.3M210.6 123.7L196.9 112.9M202.2 115.4L196.9 112.9L200.6 117.5M227.1 123.7L208.1 120.1M214.6 119.8L208.1 120.1L214.1 122.7M243.6 123.7L234.4 134.9M236.6 130.5L234.4 134.9L238.3 131.9M276.6 123.7L264.8 114.5M269.4 116.6L264.8 114.5L268.0 118.4M293.1 123.7L278.1 118.7M283.4 119.2L278.1 118.7L282.7 121.5M309.6 123.7L294.6 120.7M299.8 120.5L294.6 120.7L299.3 122.8M326.1 123.7L319.6 125.7M321.6 124.5L319.6 125.7L321.9 125.5M342.6 123.7L339.2 119.1M340.7 120.3L339.2 119.1L340.0 120.8M359.1 123.7L353.8 118.4M356.0 119.7L353.8 118.4L355.1 120.5M375.6 123.7L364.8 125.0M368.3 123.7L364.8 125.0L368.5 125.4M441.6 123.7L437.3 130.9M438.2 128.2L437.3 130.9L439.3 128.8M458.1 123.7L454.9 131.6M455.4 128.7L454.9 131.6L456.6 129.2M474.6 123.7L470.1 126.2M471.4 125.0L470.1 126.2L471.8 125.7M227.1 139.3L209.5 129.8M216.0 131.6L209.5 129.8L214.6 134.3M243.6 139.3L226.6 134.7M232.6 135.0L226.6 134.7L231.9 137.5M309.6 139.3L312.2 132.1M311.9 134.7L312.2 132.1L310.8 134.3M326.1 139.3L331.4 132.7M330.2 135.3L331.4 132.7L329.2 134.5M342.6 139.3L346.4 134.7M345.5 136.5L346.4 134.7L344.8 136.0M359.1 139.3L360.4 141.3M359.8 140.8L360.4 141.3L360.1 140.6M375.6 139.3L375.6 141.8M375.4 141.0L375.6 141.8L375.8 141.0M392.1 139.3L393.1 142.6M392.5 141.6L393.1 142.6L393.0 141.5M425.1 139.3L418.1 143.1M420.1 141.4L418.1 143.1L420.7 142.4M441.6 139.3L435.3 144.4M437.0 142.3L435.3 144.4L437.8 143.2M458.1 139.3L459.4 141.9M458.8 141.2L459.4 141.9L459.2 141.0M474.6 139.3l0.6 0.6M194.1 155.0L209.5 156.3M204.3 157.0L209.5 156.3L204.5 154.7M210.6 155.0L227.8 156.3M222.0 157.2L227.8 156.3L222.2 154.6M243.6 155.0L254.1 147.8M251.2 151.0L254.1 147.8L250.1 149.4M260.1 155.0L274.6 147.1M270.4 150.8L274.6 147.1L269.2 148.6M276.6 155.0L289.6 147.1M285.9 150.7L289.6 147.1L284.7 148.7M293.1 155.0L302.3 151.7M299.5 153.5L302.3 151.7L299.0 152.1M309.6 155.0L314.9 148.4M313.7 151.0L314.9 148.4L312.7 150.2M342.6 155.0L339.8 151.0M341.0 152.1L339.8 151.0L340.4 152.5M359.1 155.0L362.1 153.7M361.2 154.4L362.1 153.7L361.0 153.9M392.1 155.0L403.7 151.7M400.1 153.7L403.7 151.7L399.6 151.9M408.6 155.0L414.1 158.3M412.0 157.6L414.1 158.3L412.5 156.8M425.1 155.0L424.1 160.0M424.1 158.3L424.1 160.0L424.8 158.4M441.6 155.0L444.5 150.3M443.9 152.1L444.5 150.3L443.2 151.6M458.1 155.0L462.1 157.5M460.6 157.0L462.1 157.5L461.0 156.4M474.6 155.0L475.4 152.4M475.3 153.3L475.4 152.4L474.9 153.2M194.1 170.7L202.9 169.9M200.1 170.8L202.9 169.9L199.9 169.5M210.6 170.7L216.0 169.9M214.3 170.5L216.0 169.9L214.2 169.7M227.1 170.7L235.1 166.7M232.8 168.6L235.1 166.7L232.2 167.4M243.6 170.7L251.5 164.7M249.3 167.2L251.5 164.7L248.4 166.1M260.1 170.7L267.1 165.3M265.2 167.6L267.1 165.3L264.4 166.5M276.6 170.7L282.2 165.3M280.8 167.5L282.2 165.3L279.9 166.6M293.1 170.7L293.6 167.7M293.7 168.7L293.6 167.7L293.2 168.6M309.6 170.7L312.5 162.7M312.2 165.5L312.5 162.7L310.9 165.1M326.1 170.7L328.2 162.7M328.1 165.5L328.2 162.7L326.9 165.2M342.6 170.7L344.4 163.3M344.4 165.8L344.4 163.3L343.2 165.6M359.1 170.7L365.4 166.0M363.7 168.0L365.4 166.0L363.0 167.0M408.6 170.7L409.6 175.2M408.9 173.8L409.6 175.2L409.6 173.6M441.6 170.7L449.1 167.9M446.8 169.4L449.1 167.9L446.4 168.2M458.1 170.7L462.8 175.8M460.9 174.4L462.8 175.8L461.6 173.7M194.1 186.3L181.9 186.3M185.9 185.4L181.9 186.3L185.9 187.3M210.6 186.3L196.3 193.5M200.5 190.1L196.3 193.5L201.6 192.2M227.1 186.3L219.3 188.9M221.7 187.5L219.3 188.9L222.1 188.7M243.6 186.3L239.6 183.7M241.1 184.3L239.6 183.7L240.7 184.9M260.1 186.3L258.1 181.7M259.1 183.1L258.1 181.7L258.4 183.4M276.6 186.3L277.6 179.1M277.8 181.6L277.6 179.1L276.7 181.4M293.1 186.3L294.0 179.7M294.2 182.0L294.0 179.7L293.2 181.8M309.6 186.3L305.3 180.4M307.2 182.1L305.3 180.4L306.3 182.7M326.1 186.3L321.0 179.1M323.2 181.1L321.0 179.1L322.1 181.9M342.6 186.3L337.9 176.4M340.2 179.3L337.9 176.4L338.7 180.1M359.1 186.3L357.7 177.8M358.8 180.5L357.7 177.8L357.5 180.7M375.6 186.3L379.3 181.7M378.4 183.5L379.3 181.7L377.7 183.0M392.1 186.3L394.5 192.2M393.3 190.5L394.5 192.2L394.2 190.1M425.1 186.3L428.0 187.0M427.0 187.0L428.0 187.0L427.1 186.6M441.6 186.3L447.1 185.6M445.3 186.3L447.1 185.6L445.2 185.5M458.1 186.3L464.1 188.9M461.9 188.5L464.1 188.9L462.3 187.6M474.6 186.3L482.6 186.3M480.0 186.9L482.6 186.3L480.0 185.7M194.1 202.0L191.1 198.0M192.4 199.1L191.1 198.0L191.8 199.6M210.6 202.0L202.2 204.6M204.8 203.1L202.2 204.6L205.2 204.4M227.1 202.0L225.9 198.7M226.5 199.7L225.9 198.7L226.0 199.9M243.6 202.0L248.9 193.5M247.8 196.7L248.9 193.5L246.5 195.9M260.1 202.0L262.6 195.4M262.3 197.8L262.6 195.4L261.3 197.4M276.6 202.0L271.1 195.4M273.4 197.2L271.1 195.4L272.4 198.0M309.6 202.0L298.0 198.7M302.1 198.9L298.0 198.7L301.6 200.7M342.6 202.0L335.2 188.2M338.7 192.2L335.2 188.2L336.6 193.3M359.1 202.0L351.1 192.8M354.4 195.2L351.1 192.8L353.0 196.4M375.6 202.0L363.6 202.0M367.6 201.1L363.6 202.0L367.6 202.9M392.1 202.0L384.0 207.3M386.3 204.9L384.0 207.3L387.1 206.2M408.6 202.0L408.9 206.6M408.5 205.1L408.9 206.6L409.2 205.1M425.1 202.0L430.6 200.0M428.9 201.1L430.6 200.0L428.6 200.2M441.6 202.0L451.6 198.7M448.6 200.6L451.6 198.7L448.0 199.0M474.6 202.0L491.1 208.6M485.2 207.7L491.1 208.6L486.2 205.2M194.1 217.7L201.6 219.7M199.0 219.6L201.6 219.7L199.3 218.4M210.6 217.7L212.0 223.1M211.1 221.4L212.0 223.1L211.9 221.2M227.1 217.7L232.5 210.6M231.3 213.3L232.5 210.6L230.2 212.5M243.6 217.7L244.3 208.7M244.8 211.7L244.3 208.7L243.4 211.6M260.1 217.7L252.1 215.2M254.9 215.4L252.1 215.2L254.6 216.6M276.6 217.7L263.2 214.5M267.9 214.5L263.2 214.5L267.4 216.5M326.1 217.7L305.2 213.9M312.4 213.5L305.2 213.9L311.8 216.7M342.6 217.7L321.6 211.7M329.0 212.1L321.6 211.7L328.1 215.2M359.1 217.7L339.9 213.9M346.5 213.7L339.9 213.9L345.9 216.6M392.1 217.7l0.6 0.6M408.6 217.7L415.4 219.1M413.0 219.1L415.4 219.1L413.3 218.1M425.1 217.7L433.2 215.9M430.7 217.1L433.2 215.9L430.4 215.9M441.6 217.7L451.1 214.5M448.2 216.2L451.1 214.5L447.7 214.8M458.1 217.7L470.7 213.2M466.9 215.6L470.7 213.2L466.2 213.7M474.6 217.7L491.8 217.2M486.2 218.6L491.8 217.2L486.1 216.0M194.1 233.3L202.9 236.2M199.8 235.9L202.9 236.2L200.2 234.6M227.1 233.3L238.4 234.2M234.6 234.8L238.4 234.2L234.7 233.1M243.6 233.3L250.8 230.9M248.6 232.3L250.8 230.9L248.2 231.2M260.1 233.3L267.8 231.6M265.4 232.8L267.8 231.6L265.1 231.6M276.6 233.3L283.1 232.3M281.0 233.2L283.1 232.3L280.9 232.2M293.1 233.3L288.1 232.3M289.8 232.3L288.1 232.3L289.7 233.0M309.6 233.3L297.8 233.3M301.7 232.4L297.8 233.3L301.7 234.2M326.1 233.3L315.7 233.3M319.1 232.5L315.7 233.3L319.1 234.1M375.6 233.3L376.6 225.0M376.9 227.9L376.6 225.0L375.6 227.7M392.1 233.3L393.8 227.0M393.7 229.2L393.8 227.0L392.8 229.0M425.1 233.3L431.3 230.3M429.5 231.8L431.3 230.3L429.0 230.9M441.6 233.3L447.1 231.6M445.4 232.6L447.1 231.6L445.2 231.8M458.1 233.3L464.1 230.3M462.3 231.8L464.1 230.3L461.9 230.9M474.6 233.3L480.0 235.5M478.1 235.2L480.0 235.5L478.4 234.4M194.1 249.0L188.5 251.1M190.2 250.0L188.5 251.1L190.5 250.8M227.1 249.0L233.1 252.4M230.9 251.7L233.1 252.4L231.4 250.8M243.6 249.0L250.8 251.1M248.3 251.0L250.8 251.1L248.6 249.9M276.6 249.0L273.1 253.0M274.0 251.4L273.1 253.0L274.6 252.0M293.1 249.0L286.8 249.1M288.9 248.6L286.8 249.1L288.9 249.6M309.6 249.0L301.3 244.5M304.4 245.4L301.3 244.5L303.7 246.6M326.1 249.0L317.7 240.0M321.2 242.3L317.7 240.0L319.8 243.6M359.1 249.0L354.4 237.3M356.8 240.8L354.4 237.3L355.1 241.5M375.6 249.0L370.7 240.6M373.0 243.0L370.7 240.6L371.7 243.7M392.1 249.0L385.3 242.6M388.0 244.2L385.3 242.6L387.1 245.2M408.6 249.0L403.0 241.2M405.4 243.4L403.0 241.2L404.3 244.2M425.1 249.0L425.4 241.2M425.9 243.8L425.4 241.2L424.7 243.8M441.6 249.0L448.4 243.9M446.5 246.1L448.4 243.9L445.8 245.1M474.6 249.0L480.6 251.8M478.4 251.3L480.6 251.8L478.8 250.4M210.6 264.7L206.8 263.7M208.1 263.7L206.8 263.7L208.0 264.3M227.1 264.7L226.6 257.7M227.3 259.9L226.6 257.7L226.2 260.0M243.6 264.7L248.9 264.3M247.2 264.8L248.9 264.3L247.1 264.0M260.1 264.7L262.6 275.5M261.0 272.1L262.6 275.5L262.6 271.7M293.1 264.7L283.5 265.6M286.6 264.5L283.5 265.6L286.7 266.0M309.6 264.7L298.7 263.0M302.4 262.7L298.7 263.0L302.2 264.4M326.1 264.7L314.4 259.1M318.7 260.0L314.4 259.1L317.8 261.8M359.1 264.7L344.5 253.8M350.1 256.3L344.5 253.8L348.5 258.5M375.6 264.7L362.9 256.4M367.7 258.1L362.9 256.4L366.5 260.1M392.1 264.7L380.7 257.7M385.0 259.1L380.7 257.7L383.9 260.8M408.6 264.7L397.0 253.8M401.7 256.5L397.0 253.8L400.0 258.2M425.1 264.7L414.9 253.1M419.1 256.1L414.9 253.1L417.4 257.7M441.6 264.7L436.6 254.5M439.0 257.5L436.6 254.5L437.5 258.2M458.1 264.7L453.6 263.0M455.2 263.2L453.6 263.0L455.0 263.9M194.1 280.3L202.2 282.7M199.3 282.6L202.2 282.7L199.7 281.3M227.1 280.3L229.2 271.5M229.2 274.6L229.2 271.5L227.8 274.3M243.6 280.3l0.6 -1.0M260.1 280.3L260.0 293.8M259.0 289.4L260.0 293.8L261.1 289.4M276.6 280.3L274.4 292.5M274.2 288.3L274.4 292.5L276.1 288.7M293.1 280.3L284.8 286.6M287.1 283.9L284.8 286.6L288.0 285.2M309.6 280.3L297.4 283.3M301.2 281.4L297.4 283.3L301.7 283.3M359.1 280.3L343.9 273.5M349.4 274.6L343.9 273.5L348.4 276.9M375.6 280.3L361.5 274.1M366.6 275.1L361.5 274.1L365.7 277.3M392.1 280.3L379.4 275.4M384.0 276.1L379.4 275.4L383.2 278.0M408.6 280.3L397.7 273.5M401.8 275.0L397.7 273.5L400.8 276.6M425.1 280.3L412.9 270.8M417.6 273.0L412.9 270.8L416.2 274.9M441.6 280.3L428.7 270.8M433.7 273.0L428.7 270.8L432.2 275.0M458.1 280.3L445.7 280.0M449.8 279.2L445.7 280.0L449.8 281.1M474.6 280.3L465.6 285.9M468.1 283.4L465.6 285.9L469.0 284.8M210.6 296.0L207.4 297.2M208.4 296.6L207.4 297.2L208.5 297.1M227.1 296.0L222.6 293.2M224.3 293.8L222.6 293.2L223.9 294.5M243.6 296.0L235.7 296.5M238.3 295.7L235.7 296.5L238.3 296.9M260.1 296.0L251.4 305.7M253.5 301.8L251.4 305.7L255.0 303.2M276.6 296.0L269.8 308.4M271.1 303.8L269.8 308.4L273.0 304.8M309.6 296.0L299.4 303.1M302.2 300.0L299.4 303.1L303.3 301.5M326.1 296.0L311.8 299.2M316.3 297.1L311.8 299.2L316.8 299.2M342.6 296.0L330.0 293.9M334.3 293.6L330.0 293.9L334.0 295.6M359.1 296.0L344.5 289.3M349.8 290.4L344.5 289.3L348.8 292.6M375.6 296.0L364.2 291.3M368.3 292.0L364.2 291.3L367.6 293.7M392.1 296.0L384.0 291.9M387.0 292.6L384.0 291.9L386.4 293.9M408.6 296.0L404.3 291.3M406.1 292.5L404.3 291.3L405.4 293.2M458.1 296.0L449.7 293.2M452.7 293.5L449.7 293.2L452.3 294.8M474.6 296.0L467.5 294.6M469.9 294.5L467.5 294.6L469.7 295.6M194.1 311.7L188.5 314.2M190.2 312.9L188.5 314.2L190.5 313.8M210.6 311.7L205.6 314.2M207.1 313.0L205.6 314.2L207.4 313.7M227.1 311.7L217.4 312.2M220.6 311.3L217.4 312.2L220.6 312.7M243.6 311.7L231.8 312.9M235.6 311.6L231.8 312.9L235.8 313.4M260.1 311.7L251.3 318.6M253.7 315.6L251.3 318.6L254.7 317.0M276.6 311.7L269.7 321.2M271.3 317.5L269.7 321.2L272.7 318.6M293.1 311.7L286.1 321.9M287.6 318.0L286.1 321.9L289.2 319.0M309.6 311.7L301.9 321.2M303.7 317.5L301.9 321.2L305.2 318.6M326.1 311.7L318.3 317.3M320.4 314.8L318.3 317.3L321.3 316.0M342.6 311.7L334.6 307.6M337.6 308.3L334.6 307.6L336.9 309.5M359.1 311.7L351.7 301.7M354.9 304.4L351.7 301.7L353.4 305.5M392.1 311.7L393.8 305.0M393.7 307.3L393.8 305.0L392.7 307.1M425.1 311.7L428.6 312.7M427.4 312.6L428.6 312.7L427.5 312.1M474.6 311.7L469.6 314.7M471.0 313.3L469.6 314.7L471.5 314.1M194.1 327.3L177.9 329.6M183.1 327.7L177.9 329.6L183.4 330.1M227.1 327.3L204.2 330.3M211.5 327.6L204.2 330.3L212.0 331.1M243.6 327.3L222.6 325.7M229.7 324.7L222.6 325.7L229.4 327.9M260.1 327.3L243.7 328.0M249.1 326.6L243.7 328.0L249.2 329.1M276.6 327.3L265.2 331.6M268.6 329.4L265.2 331.6L269.3 331.1M293.1 327.3L287.5 334.3M288.8 331.6L287.5 334.3L289.9 332.5M309.6 327.3L307.2 334.3M307.5 331.8L307.2 334.3L308.5 332.2M326.1 327.3L326.2 331.0M325.9 329.8L326.2 331.0L326.4 329.8M342.6 327.3L344.4 323.1M344.1 324.7L344.4 323.1L343.5 324.4M359.1 327.3L360.3 317.3M360.7 320.7L360.3 317.3L359.1 320.5M375.6 327.3L377.3 319.2M377.4 322.0L377.3 319.2L376.1 321.8M425.1 327.3L428.6 327.3M427.4 327.6L428.6 327.3L427.4 327.1M441.6 327.3L446.5 329.7M444.7 329.3L446.5 329.7L445.1 328.6M458.1 327.3L461.5 330.3M460.2 329.6L461.5 330.3L460.6 329.1M194.1 343.0l0.6 0.6M210.6 343.0L218.0 344.2M215.5 344.4L218.0 344.2L215.6 343.2M227.1 343.0L239.1 341.6M235.2 343.0L239.1 341.6L235.0 341.2M243.6 343.0L254.8 338.9M251.4 341.1L254.8 338.9L250.8 339.4M260.1 343.0L267.9 339.8M265.6 341.5L267.9 339.8L265.1 340.3M276.6 343.0L281.6 345.5M279.8 345.1L281.6 345.5L280.1 344.3M293.1 343.0L296.0 350.1M294.5 348.0L296.0 350.1L295.6 347.5M309.6 343.0L310.5 350.1M309.7 347.8L310.5 350.1L310.7 347.7M342.6 343.0L341.8 339.0M342.4 340.3L341.8 339.0L341.8 340.4M359.1 343.0L356.3 334.3M357.9 337.0L356.3 334.3L356.6 337.4M375.6 343.0L372.1 335.6M373.8 337.8L372.1 335.6L372.7 338.3M392.1 343.0L389.2 338.9M390.5 340.0L389.2 338.9L389.8 340.5M408.6 343.0L404.9 339.6M406.4 340.4L404.9 339.6L405.9 341.0M425.1 343.0L421.4 342.2M422.7 342.2L421.4 342.2L422.6 342.8M441.6 343.0L442.5 346.2M442.0 345.2L442.5 346.2L442.4 345.1M458.1 343.0L461.5 346.8M460.1 345.8L461.5 346.8L460.7 345.3M474.6 343.0L479.3 347.5M477.4 346.4L479.3 347.5L478.1 345.7M210.6 358.7L219.9 349.5M217.5 353.2L219.9 349.5L216.1 351.8M227.1 358.7L239.1 354.8M235.4 357.0L239.1 354.8L234.8 355.2M243.6 358.7L254.8 360.7M251.0 360.9L254.8 360.7L251.3 359.2M260.1 358.7L268.5 362.0M265.5 361.5L268.5 362.0L266.0 360.2M276.6 358.7L283.6 365.3M280.8 363.6L283.6 365.3L281.8 362.6M293.1 358.7L301.2 367.9M297.8 365.5L301.2 367.9L299.2 364.2M342.6 358.7L361.5 357.4M355.4 359.2L361.5 357.4L355.2 356.4M359.1 358.7L373.4 356.7M368.8 358.4L373.4 356.7L368.5 356.2M375.6 358.7L383.2 354.8M381.0 356.6L383.2 354.8L380.4 355.5M425.1 358.7L426.7 353.4M426.6 355.2L426.7 353.4L425.8 355.0M441.6 358.7L447.1 354.1M445.6 356.0L447.1 354.1L444.9 355.2M458.1 358.7L468.1 357.4M464.9 358.6L468.1 357.4L464.7 357.0M474.6 358.7L487.2 360.7M482.9 361.0L487.2 360.7L483.2 359.1M194.1 374.3L195.7 368.4M195.6 370.5L195.7 368.4L194.7 370.3M210.6 374.3L208.1 367.1M209.5 369.3L208.1 367.1L208.4 369.7M227.1 374.3L223.3 371.0M224.8 371.8L223.3 371.0L224.3 372.4M243.6 374.3l0.6 0.6M276.6 374.3L284.2 378.9M281.3 378.0L284.2 378.9L282.0 376.8M293.1 374.3L302.6 378.9M299.1 378.1L302.6 378.9L299.8 376.7M309.6 374.3L320.4 373.6M316.9 374.7L320.4 373.6L316.8 373.1M359.1 374.3L372.8 380.9M367.8 379.8L372.8 380.9L368.8 377.7M375.6 374.3L389.1 380.9M384.1 379.8L389.1 380.9L385.1 377.7M392.1 374.3L404.3 376.3M400.1 376.6L404.3 376.3L400.4 374.8M408.6 374.3L419.5 372.3M416.1 373.8L419.5 372.3L415.8 372.2M425.1 374.3L435.9 368.4M432.8 371.2L435.9 368.4L431.9 369.6M441.6 374.3L453.7 368.4M450.2 371.3L453.7 368.4L449.3 369.5M458.1 374.3L470.7 371.7M466.7 373.6L470.7 371.7L466.3 371.6M474.6 374.3L489.2 374.7M484.4 375.7L489.2 374.7L484.4 373.5" stroke="#000" stroke-width="2.1" fill="none" stroke-linecap="round" stroke-linejoin="round"/><path d="M185.8 24.5L188.9 25.6L188.1 26.8ZM218.3 32.9L221.0 31.1L221.4 32.5ZM425.7 19.7L426.3 23.0L424.7 22.9ZM187.8 37.3L190.5 39.5L189.3 40.5ZM285.7 40.7L277.6 44.2L276.9 40.3ZM300.9 62.3L291.6 58.6L294.2 54.9ZM302.3 57.8L298.3 54.4L300.2 53.0ZM343.3 57.8L342.1 53.8L344.0 53.7ZM428.1 32.3L428.1 36.9L426.1 36.4ZM235.6 55.5L233.2 58.0L232.4 56.7ZM249.9 29.0L250.2 40.0L245.4 39.1ZM260.1 46.0L261.2 51.0L259.0 51.0ZM274.6 92.0L272.9 81.6L277.6 81.9ZM294.6 91.0L291.8 81.2L296.4 81.0ZM346.5 72.2L344.4 68.8L346.1 68.2ZM362.4 70.2L360.6 67.4L362.0 66.9ZM408.6 48.0L409.6 52.3L407.6 52.3ZM417.9 51.0L421.0 53.8L419.5 54.8ZM236.4 59.7L240.1 64.7L237.5 65.8ZM256.0 102.3L260.9 92.3L264.7 95.4ZM283.9 86.7L286.2 82.7L287.7 84.1ZM345.9 85.2L344.2 82.6L345.5 82.1ZM437.6 87.7L438.1 83.7L439.8 84.3ZM231.8 86.5L236.1 87.6L235.3 89.3ZM273.7 115.9L272.9 107.9L276.4 108.4ZM334.0 98.2L330.9 96.9L331.8 95.7ZM356.3 91.3L351.9 92.7L351.7 90.6ZM392.1 90.8L397.7 90.1L397.4 92.6ZM412.9 97.8L416.5 95.1L417.3 96.9ZM205.6 100.0L207.9 102.3L206.6 103.0ZM238.4 104.1L245.9 103.7L245.3 107.0ZM266.1 109.5L269.5 108.2L269.7 109.8ZM393.8 117.5L392.5 114.5L394.0 114.2ZM406.6 118.0L406.5 114.6L408.0 114.9ZM196.9 112.9L202.2 115.4L200.6 117.5ZM208.1 120.1L214.6 119.8L214.1 122.7ZM234.4 134.9L236.6 130.5L238.3 131.9ZM264.8 114.5L269.4 116.6L268.0 118.4ZM278.1 118.7L283.4 119.2L282.7 121.5ZM294.6 120.7L299.8 120.5L299.3 122.8ZM364.8 125.0L368.3 123.7L368.5 125.4ZM209.5 129.8L216.0 131.6L214.6 134.3ZM226.6 134.7L232.6 135.0L231.9 137.5ZM209.5 156.3L204.3 157.0L204.5 154.7ZM227.8 156.3L222.0 157.2L222.2 154.6ZM254.1 147.8L251.2 151.0L250.1 149.4ZM274.6 147.1L270.4 150.8L269.2 148.6ZM289.6 147.1L285.9 150.7L284.7 148.7ZM302.3 151.7L299.5 153.5L299.0 152.1ZM403.7 151.7L400.1 153.7L399.6 151.9ZM251.5 164.7L249.3 167.2L248.4 166.1ZM181.9 186.3L185.9 185.4L185.9 187.3ZM196.3 193.5L200.5 190.1L201.6 192.2ZM337.9 176.4L340.2 179.3L338.7 180.1ZM248.9 193.5L247.8 196.7L246.5 195.9ZM298.0 198.7L302.1 198.9L301.6 200.7ZM335.2 188.2L338.7 192.2L336.6 193.3ZM351.1 192.8L354.4 195.2L353.0 196.4ZM363.6 202.0L367.6 201.1L367.6 202.9ZM384.0 207.3L386.3 204.9L387.1 206.2ZM451.6 198.7L448.6 200.6L448.0 199.0ZM491.1 208.6L485.2 207.7L486.2 205.2ZM244.3 208.7L244.8 211.7L243.4 211.6ZM263.2 214.5L267.9 214.5L267.4 216.5ZM305.2 213.9L312.4 213.5L311.8 216.7ZM321.6 211.7L329.0 212.1L328.1 215.2ZM339.9 213.9L346.5 213.7L345.9 216.6ZM451.1 214.5L448.2 216.2L447.7 214.8ZM470.7 213.2L466.9 215.6L466.2 213.7ZM491.8 217.2L486.2 218.6L486.1 216.0ZM202.9 236.2L199.8 235.9L200.2 234.6ZM238.4 234.2L234.6 234.8L234.7 233.1ZM297.8 233.3L301.7 232.4L301.7 234.2ZM315.7 233.3L319.1 232.5L319.1 234.1ZM301.3 244.5L304.4 245.4L303.7 246.6ZM317.7 240.0L321.2 242.3L319.8 243.6ZM354.4 237.3L356.8 240.8L355.1 241.5ZM370.7 240.6L373.0 243.0L371.7 243.7ZM385.3 242.6L388.0 244.2L387.1 245.2ZM403.0 241.2L405.4 243.4L404.3 244.2ZM262.6 275.5L261.0 272.1L262.6 271.7ZM283.5 265.6L286.6 264.5L286.7 266.0ZM298.7 263.0L302.4 262.7L302.2 264.4ZM314.4 259.1L318.7 260.0L317.8 261.8ZM344.5 253.8L350.1 256.3L348.5 258.5ZM362.9 256.4L367.7 258.1L366.5 260.1ZM380.7 257.7L385.0 259.1L383.9 260.8ZM397.0 253.8L401.7 256.5L400.0 258.2ZM414.9 253.1L419.1 256.1L417.4 257.7ZM436.6 254.5L439.0 257.5L437.5 258.2ZM229.2 271.5L229.2 274.6L227.8 274.3ZM260.0 293.8L259.0 289.4L261.1 289.4ZM274.4 292.5L274.2 288.3L276.1 288.7ZM284.8 286.6L287.1 283.9L288.0 285.2ZM297.4 283.3L301.2 281.4L301.7 283.3ZM343.9 273.5L349.4 274.6L348.4 276.9ZM361.5 274.1L366.6 275.1L365.7 277.3ZM379.4 275.4L384.0 276.1L383.2 278.0ZM397.7 273.5L401.8 275.0L400.8 276.6ZM412.9 270.8L417.6 273.0L416.2 274.9ZM428.7 270.8L433.7 273.0L432.2 275.0ZM445.7 280.0L449.8 279.2L449.8 281.1ZM465.6 285.9L468.1 283.4L469.0 284.8ZM251.4 305.7L253.5 301.8L255.0 303.2ZM269.8 308.4L271.1 303.8L273.0 304.8ZM299.4 303.1L302.2 300.0L303.3 301.5ZM311.8 299.2L316.3 297.1L316.8 299.2ZM330.0 293.9L334.3 293.6L334.0 295.6ZM344.5 289.3L349.8 290.4L348.8 292.6ZM364.2 291.3L368.3 292.0L367.6 293.7ZM384.0 291.9L387.0 292.6L386.4 293.9ZM217.4 312.2L220.6 311.3L220.6 312.7ZM231.8 312.9L235.6 311.6L235.8 313.4ZM251.3 318.6L253.7 315.6L254.7 317.0ZM269.7 321.2L271.3 317.5L272.7 318.6ZM286.1 321.9L287.6 318.0L289.2 319.0ZM301.9 321.2L303.7 317.5L305.2 318.6ZM318.3 317.3L320.4 314.8L321.3 316.0ZM351.7 301.7L354.9 304.4L353.4 305.5ZM177.9 329.6L183.1 327.7L183.4 330.1ZM204.2 330.3L211.5 327.6L212.0 331.1ZM222.6 325.7L229.7 324.7L229.4 327.9ZM243.7 328.0L249.1 326.6L249.2 329.1ZM265.2 331.6L268.6 329.4L269.3 331.1ZM360.3 317.3L360.7 320.7L359.1 320.5ZM239.1 341.6L235.2 343.0L235.0 341.2ZM254.8 338.9L251.4 341.1L250.8 339.4ZM356.3 334.3L357.9 337.0L356.6 337.4ZM219.9 349.5L217.5 353.2L216.1 351.8ZM239.1 354.8L235.4 357.0L234.8 355.2ZM254.8 360.7L251.0 360.9L251.3 359.2ZM268.5 362.0L265.5 361.5L266.0 360.2ZM283.6 365.3L280.8 363.6L281.8 362.6ZM301.2 367.9L297.8 365.5L299.2 364.2ZM361.5 357.4L355.4 359.2L355.2 356.4ZM373.4 356.7L368.8 358.4L368.5 356.2ZM468.1 357.4L464.9 358.6L464.7 357.0ZM487.2 360.7L482.9 361.0L483.2 359.1ZM302.6 378.9L299.1 378.1L299.8 376.7ZM320.4 373.6L316.9 374.7L316.8 373.1ZM372.8 380.9L367.8 379.8L368.8 377.7ZM389.1 380.9L384.1 379.8L385.1 377.7ZM404.3 376.3L400.1 376.6L400.4 374.8ZM419.5 372.3L416.1 373.8L415.8 372.2ZM435.9 368.4L432.8 371.2L431.9 369.6ZM453.7 368.4L450.2 371.3L449.3 369.5ZM470.7 371.7L466.7 373.6L466.3 371.6ZM489.2 374.7L484.4 375.7L484.4 373.5Z" fill="#000"/>
<rect x="177.6" y="14.0" width="313.4" height="376.0" fill="none" stroke="#6a6a6a" stroke-width="1.1"/><path d="M227.1 14.0v3.6M227.1 390.0v-3.6M293.1 14.0v3.6M293.1 390.0v-3.6M359.1 14.0v3.6M359.1 390.0v-3.6M425.1 14.0v3.6M425.1 390.0v-3.6M177.6 76.7h3.6M491.0 76.7h-3.6M177.6 139.3h3.6M491.0 139.3h-3.6M177.6 202.0h3.6M491.0 202.0h-3.6M177.6 264.7h3.6M491.0 264.7h-3.6M177.6 327.3h3.6M491.0 327.3h-3.6" stroke="#6a6a6a" stroke-width="1.1" fill="none"/><rect x="293.1" y="108.0" width="115.5" height="62.7" fill="none" stroke="#141c6e" stroke-width="2.6"/><rect x="433.5" y="19.7" width="51.5" height="37.6" fill="none" stroke="#3b5580" stroke-width="1"/><text x="0" y="0" font-size="14.3" fill="#34507c" transform="translate(437 40.6) scale(1.13 1)">5 m/s</text><path d="M445 49.9H463" stroke="#34507c" stroke-width="2.4"/><path d="M471.5 49.9L461.5 46.9L461.5 52.9z" fill="#34507c"/>
<rect x="506.8" y="339.34" width="9.999999999999943" height="9.46" fill="#2458a4"/><rect x="506.8" y="330.18" width="9.999999999999943" height="9.46" fill="#2466ac"/><rect x="506.8" y="321.02" width="9.999999999999943" height="9.46" fill="#2674b4"/><rect x="506.8" y="311.86" width="9.999999999999943" height="9.46" fill="#2882bc"/><rect x="506.8" y="302.70" width="9.999999999999943" height="9.46" fill="#3092c2"/><rect x="506.8" y="293.54" width="9.999999999999943" height="9.46" fill="#3ca0c4"/><rect x="506.8" y="284.38" width="9.999999999999943" height="9.46" fill="#4dafc4"/><rect x="506.8" y="275.23" width="9.999999999999943" height="9.46" fill="#62bcc2"/><rect x="506.8" y="266.07" width="9.999999999999943" height="9.46" fill="#79c7be"/><rect x="506.8" y="256.91" width="9.999999999999943" height="9.46" fill="#93d1bc"/><rect x="506.8" y="247.75" width="9.999999999999943" height="9.46" fill="#acdab8"/><rect x="506.8" y="238.59" width="9.999999999999943" height="9.46" fill="#c4e4b4"/><rect x="506.8" y="229.43" width="9.999999999999943" height="9.46" fill="#d8ebb0"/><rect x="506.8" y="220.27" width="9.999999999999943" height="9.46" fill="#e8f1ae"/><rect x="506.8" y="211.11" width="9.999999999999943" height="9.46" fill="#f0f5bc"/><rect x="506.8" y="201.95" width="9.999999999999943" height="9.46" fill="#fafad2"/><rect x="506.8" y="192.79" width="9.999999999999943" height="9.46" fill="#fef9d6"/><rect x="506.8" y="183.63" width="9.999999999999943" height="9.46" fill="#fff3c6"/><rect x="506.8" y="174.47" width="9.999999999999943" height="9.46" fill="#ffecb6"/><rect x="506.8" y="165.31" width="9.999999999999943" height="9.46" fill="#fee5a6"/><rect x="506.8" y="156.15" width="9.999999999999943" height="9.46" fill="#fedc94"/><rect x="506.8" y="146.99" width="9.999999999999943" height="9.46" fill="#fdd47f"/><rect x="506.8" y="137.83" width="9.999999999999943" height="9.46" fill="#fcc667"/><rect x="506.8" y="128.67" width="9.999999999999943" height="9.46" fill="#fab54d"/><rect x="506.8" y="119.52" width="9.999999999999943" height="9.46" fill="#f7a43a"/><rect x="506.8" y="110.36" width="9.999999999999943" height="9.46" fill="#f4962e"/><rect x="506.8" y="101.20" width="9.999999999999943" height="9.46" fill="#f08824"/><rect x="506.8" y="92.04" width="9.999999999999943" height="9.46" fill="#ea7c1e"/><rect x="506.8" y="82.88" width="9.999999999999943" height="9.46" fill="#e47117"/><rect x="506.8" y="73.72" width="9.999999999999943" height="9.46" fill="#da6711"/><rect x="506.8" y="64.56" width="9.999999999999943" height="9.46" fill="#d25e0d"/><rect x="506.8" y="55.40" width="9.999999999999943" height="9.46" fill="#cc560b"/><rect x="506.8" y="55.4" width="9.999999999999943" height="293.1" fill="none" stroke="#8a8a8a" stroke-width="0.8"/><line x1="514.3" y1="55.4" x2="516.8" y2="55.4" stroke="#333" stroke-width="0.8"/><line x1="514.3" y1="104.2" x2="516.8" y2="104.2" stroke="#333" stroke-width="0.8"/><line x1="514.3" y1="153.1" x2="516.8" y2="153.1" stroke="#333" stroke-width="0.8"/><line x1="514.3" y1="202.0" x2="516.8" y2="202.0" stroke="#333" stroke-width="0.8"/><line x1="514.3" y1="250.8" x2="516.8" y2="250.8" stroke="#333" stroke-width="0.8"/><line x1="514.3" y1="299.6" x2="516.8" y2="299.6" stroke="#333" stroke-width="0.8"/><line x1="514.3" y1="348.5" x2="516.8" y2="348.5" stroke="#333" stroke-width="0.8"/><text x="0" y="0" font-size="10.6" fill="#333" transform="translate(520.9 60.3) scale(1.1 1)">0.6</text><text x="0" y="0" font-size="10.6" fill="#333" transform="translate(520.9 109.2) scale(1.1 1)">0.4</text><text x="0" y="0" font-size="10.6" fill="#333" transform="translate(520.9 158.0) scale(1.1 1)">0.2</text><text x="0" y="0" font-size="10.6" fill="#333" transform="translate(520.9 206.9) scale(1.1 1)">0</text><text x="0" y="0" font-size="10.6" fill="#333" transform="translate(520.9 255.7) scale(1.1 1)">-0.2</text><text x="0" y="0" font-size="10.6" fill="#333" transform="translate(520.9 304.5) scale(1.1 1)">-0.4</text><text x="0" y="0" font-size="10.6" fill="#333" transform="translate(520.9 353.4) scale(1.1 1)">-0.6</text>
<rect x="61.6" y="433.5" width="619.4" height="354.20000000000005" fill="none" stroke="#262626" stroke-width="1.4"/><line x1="84.5" y1="787.7" x2="84.5" y2="782.7" stroke="#262626" stroke-width="1.6"/><line x1="84.5" y1="433.5" x2="84.5" y2="438.5" stroke="#262626" stroke-width="1.6"/><line x1="199.5" y1="787.7" x2="199.5" y2="782.7" stroke="#262626" stroke-width="1.6"/><line x1="199.5" y1="433.5" x2="199.5" y2="438.5" stroke="#262626" stroke-width="1.6"/><line x1="314.5" y1="787.7" x2="314.5" y2="782.7" stroke="#262626" stroke-width="1.6"/><line x1="314.5" y1="433.5" x2="314.5" y2="438.5" stroke="#262626" stroke-width="1.6"/><line x1="429.5" y1="787.7" x2="429.5" y2="782.7" stroke="#262626" stroke-width="1.6"/><line x1="429.5" y1="433.5" x2="429.5" y2="438.5" stroke="#262626" stroke-width="1.6"/><line x1="544.5" y1="787.7" x2="544.5" y2="782.7" stroke="#262626" stroke-width="1.6"/><line x1="544.5" y1="433.5" x2="544.5" y2="438.5" stroke="#262626" stroke-width="1.6"/><line x1="659.5" y1="787.7" x2="659.5" y2="782.7" stroke="#262626" stroke-width="1.6"/><line x1="659.5" y1="433.5" x2="659.5" y2="438.5" stroke="#262626" stroke-width="1.6"/><line x1="61.6" y1="755.7" x2="68.3" y2="755.7" stroke="#262626" stroke-width="1.2"/><line x1="681.0" y1="755.7" x2="674.3" y2="755.7" stroke="#262626" stroke-width="1.2"/><line x1="61.6" y1="723.5" x2="68.3" y2="723.5" stroke="#262626" stroke-width="1.2"/><line x1="681.0" y1="723.5" x2="674.3" y2="723.5" stroke="#262626" stroke-width="1.2"/><line x1="61.6" y1="691.3" x2="68.3" y2="691.3" stroke="#262626" stroke-width="1.2"/><line x1="681.0" y1="691.3" x2="674.3" y2="691.3" stroke="#262626" stroke-width="1.2"/><line x1="61.6" y1="659.0" x2="68.3" y2="659.0" stroke="#262626" stroke-width="1.2"/><line x1="681.0" y1="659.0" x2="674.3" y2="659.0" stroke="#262626" stroke-width="1.2"/><line x1="61.6" y1="626.8" x2="68.3" y2="626.8" stroke="#262626" stroke-width="1.2"/><line x1="681.0" y1="626.8" x2="674.3" y2="626.8" stroke="#262626" stroke-width="1.2"/><line x1="61.6" y1="594.6" x2="68.3" y2="594.6" stroke="#262626" stroke-width="1.2"/><line x1="681.0" y1="594.6" x2="674.3" y2="594.6" stroke="#262626" stroke-width="1.2"/><line x1="61.6" y1="562.3" x2="68.3" y2="562.3" stroke="#262626" stroke-width="1.2"/><line x1="681.0" y1="562.3" x2="674.3" y2="562.3" stroke="#262626" stroke-width="1.2"/><line x1="61.6" y1="530.1" x2="68.3" y2="530.1" stroke="#262626" stroke-width="1.2"/><line x1="681.0" y1="530.1" x2="674.3" y2="530.1" stroke="#262626" stroke-width="1.2"/><line x1="61.6" y1="497.9" x2="68.3" y2="497.9" stroke="#262626" stroke-width="1.2"/><line x1="681.0" y1="497.9" x2="674.3" y2="497.9" stroke="#262626" stroke-width="1.2"/><line x1="61.6" y1="465.6" x2="68.3" y2="465.6" stroke="#262626" stroke-width="1.2"/><line x1="681.0" y1="465.6" x2="674.3" y2="465.6" stroke="#262626" stroke-width="1.2"/><line x1="61.6" y1="433.4" x2="68.3" y2="433.4" stroke="#262626" stroke-width="1.2"/><line x1="681.0" y1="433.4" x2="674.3" y2="433.4" stroke="#262626" stroke-width="1.2"/><line x1="61.6" y1="626.8" x2="681.0" y2="626.8" stroke="#a8a8a8" stroke-width="1.4" stroke-dasharray="8.5 8.52"/><polyline points="61.75,697.5 64.7,696.4 68.2,692.3 71.1,689.9 72.8,692.3 75.2,696.4 77.5,699.9 80.4,701.6 82.8,706.3 84.5,709.2 86.9,702.2 88.0,700.4 90.4,699.9 93.9,696.9 96.8,698.7 99.1,704.5 101.5,708.6 103.8,708.6 107.3,710.4 110.8,706.3 114.9,706.3 117.8,708.6 120.7,711.0 122.5,716.2 124.8,719.1 127.7,719.7 129.5,720.3 131.8,722.6 133.6,720.3 135.9,717.4 137.3,717.3 140.8,717.8 143.2,719.9 144.9,725.1 146.7,728.6 149.6,730.9 152.5,732.5 155.4,730.1 158.9,729.8 161.3,727.1 163.6,724.5 166.5,725.1 168.3,728.0 170.6,731.3 173.5,732.7 176.5,731.8 178.4,732.9 180,730.6 182.9,731.3 185.8,729.4 188.1,732.1 191.1,738.5 194,742 196.9,746.1 200.4,750.5 203.9,750.8 208.6,750.5 210.9,753.7 213.5,755.1 216.4,759.2 219.3,762.7 222.3,766.2 225.2,766.4 229.3,763.6 231,764.2 233.9,763.6 236.9,766.2 239.2,768.5 243.3,770.9 245,776.7 247.1,782.3 249.7,781.2 253.2,781.2 255.5,777.9 258.5,774.1 260.8,776.7 263.1,779 267.2,778.1 270.7,777.3 273.6,778.5 276,780 277.7,777.3 281.8,776.1 284.7,774.6 287.9,772.8 289.7,773.7 291.8,776.3 295.5,773.1 298.4,767.3 301.4,761.5 304.3,757.6 308.4,760.3 311.9,762.6 314.8,764.1 316.5,762 320,762.3 323,758 325.9,753.9 328.8,753.6 331.7,754.8 334.6,755.3 337.6,759.1 340.5,758 344,756.8 346.3,752.1 348.6,745.7 351.6,745.5 355.1,746.3 358,749.8 360.3,753.9 361.8,754.8 365.3,755.4 369.3,751.9 371.7,745.5 374,741.4 377.5,740.2 381,737.9 383.9,739.3 386.9,740 389.8,736.1 392.7,731.5 396.2,730.9 400.9,728.8 404.4,730.9 408.5,734.6 411.4,730.9 414.3,726.8 417.2,720.4 419.6,715.1 423.1,714.3 426.6,716.3 430.1,717.4 433,714.5 436.5,711.6 438.8,708.7 439.7,704.7 443.2,700.6 448.4,698.8 453.1,700.4 456,697.1 458.9,691.2 461.9,684.8 463.6,677.8 467.7,674 471.2,675.5 475.3,678.4 478.2,674.9 480,671.4 482.3,669.6 484.1,660.9 486.4,652.7 488.7,648.6 491.6,648 494,646.6 496.9,649.2 500.4,655 504.5,651 506.2,643.4 508,634 510.9,629.3 513.8,628.8 516.7,632.4 521.4,635.7 525.4,632.4 528.9,628.3 531.3,620.7 534.2,611.4 537.1,608.1 541.2,608.8 544.7,611.4 547.6,607.9 550,601.5 552.3,593.9 554.6,586.3 558.1,579.3 562.2,576.9 565.7,576.4 568.1,578.1 571,575.2 573.5,570.6 575.8,561.2 578.2,550.7 581.1,545.5 584,544.7 587.5,547.2 590.8,550.1 593.9,545.8 596.3,539.6 598.6,530.9 600.9,521.5 603.9,516.9 608,517.4 610.9,519.2 614.4,523.3 617.3,522.1 620.8,514.5 622.4,505 624.2,493.9 626.8,488.2 630.3,486 633.9,486.7 638.5,488.8 641.6,484.2 644.6,479 646.7,470.9 649.2,463.2 652.3,464.7 656.9,465.3 659.5,467.8 662.5,465.3 666.1,461.7 668.1,455.5 670.7,445.3 673.8,443.3 676.3,444.3 680.4,447.9" fill="none" stroke="#000" stroke-width="3.6" stroke-linejoin="round" stroke-linecap="round"/><rect x="271" y="433.7" width="248.5" height="354.70000000000005" fill="rgb(0,114,189)" fill-opacity="0.2"/><rect x="531" y="433.7" width="150.0" height="354.70000000000005" fill="rgb(238,98,72)" fill-opacity="0.2"/>
</svg>
<div class="ml" style="top:8.9px">60<sup>o</sup>N</div><div class="ml" style="top:71.6px">40<sup>o</sup>N</div><div class="ml" style="top:134.2px">20<sup>o</sup>N</div><div class="ml" style="top:196.9px">0</div><div class="ml" style="top:259.6px">20<sup>o</sup>S</div><div class="ml" style="top:322.2px">40<sup>o</sup>S</div><div class="ml" style="top:384.9px">60<sup>o</sup>S</div><div class="bl" style="left:197.4px">40<sup>o</sup>E</div><div class="bl" style="left:263.4px">60<sup>o</sup>E</div><div class="bl" style="left:329.4px">80<sup>o</sup>E</div><div class="bl" style="left:395.4px">100<sup>o</sup>E</div><div class="bl" style="left:461.4px">120<sup>o</sup>E</div>
<div class="xl" style="left:54.5px;top:794.2px">1985</div><div class="xl" style="left:169.5px;top:794.2px">1990</div><div class="xl" style="left:284.5px;top:794.2px">1995</div><div class="xl" style="left:399.5px;top:794.2px">2000</div><div class="xl" style="left:514.5px;top:794.2px">2005</div><div class="xl" style="left:629.5px;top:794.2px">2010</div><div class="yl" style="top:427.8px">0.6</div><div class="yl" style="top:492.3px">0.4</div><div class="yl" style="top:556.7px">0.2</div><div class="yl" style="top:621.2px">0</div><div class="yl" style="top:685.7px">-0.2</div><div class="yl" style="top:750.1px">-0.4</div>
<div class="lab" style="left:184.3px;top:-1.5px;font-size:11.5px;">a</div>
<div class="lab" style="left:62.6px;top:417.5px;font-size:12.5px;transform:scaleX(1.15);transform-origin:0 0;">b</div>
<div class="lab" style="left:340px;top:809.9px;font-size:17.5px;letter-spacing:4.05px;transform:scaleX(1.3);transform-origin:0 0;">year</div>
<div class="lab" style="left:-8.1px;top:601.3px;font-size:16.5px;transform:rotate(-90deg) scaleY(1.22);width:40px;text-align:center;">m / s</div>
</body></html>
